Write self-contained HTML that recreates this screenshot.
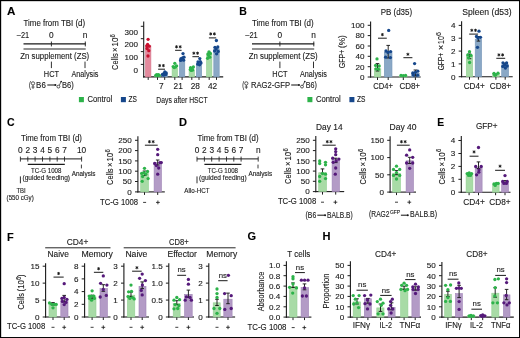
<!DOCTYPE html>
<html><head><meta charset="utf-8"><style>
html,body{margin:0;padding:0;background:#fff;}
svg{display:block;will-change:transform;}
text{font-family:"Liberation Sans", sans-serif;stroke:#1a1a1a;stroke-width:0.12px;}
</style></head><body>
<svg width="520" height="338" viewBox="0 0 520 338">
<rect width="520" height="338" fill="#fff"/>
<rect x="0.55" y="0.55" width="519.1" height="337.1" fill="none" stroke="#000" stroke-width="1.25"/>
<text x="7.00" y="15.20" font-size="10.6" text-anchor="start" font-weight="bold" textLength="8.40" lengthAdjust="spacingAndGlyphs" fill="#000">A</text>
<text x="23.50" y="25.60" font-size="8.3" text-anchor="start" textLength="61.60" lengthAdjust="spacingAndGlyphs" fill="#1a1a1a">Time from TBI (d)</text>
<text x="16.80" y="37.60" font-size="8.3" text-anchor="start" textLength="12.40" lengthAdjust="spacingAndGlyphs" fill="#1a1a1a">–21</text>
<text x="51.40" y="37.60" font-size="8.3" text-anchor="middle" fill="#1a1a1a">0</text>
<text x="85.10" y="37.60" font-size="8.3" text-anchor="middle" fill="#1a1a1a">n</text>
<line x1="23.50" y1="43.90" x2="85.70" y2="43.90" stroke="#1a1a1a" stroke-width="1.2"/>
<line x1="51.40" y1="41.50" x2="51.40" y2="46.40" stroke="#1a1a1a" stroke-width="0.9"/>
<line x1="85.30" y1="41.50" x2="85.30" y2="46.40" stroke="#1a1a1a" stroke-width="0.9"/>
<line x1="23.50" y1="49.00" x2="85.70" y2="49.00" stroke="#1a1a1a" stroke-width="0.95"/>
<text x="20.30" y="59.10" font-size="8.3" text-anchor="start" textLength="68.90" lengthAdjust="spacingAndGlyphs" fill="#1a1a1a">Zn supplement (ZS)</text>
<line x1="51.40" y1="61.60" x2="51.40" y2="68.10" stroke="#1a1a1a" stroke-width="0.9"/>
<line x1="85.00" y1="61.60" x2="85.00" y2="68.10" stroke="#1a1a1a" stroke-width="0.9"/>
<text x="43.80" y="77.20" font-size="8.3" text-anchor="start" textLength="15.20" lengthAdjust="spacingAndGlyphs" fill="#1a1a1a">HCT</text>
<text x="71.50" y="77.20" font-size="8.3" text-anchor="start" textLength="26.90" lengthAdjust="spacingAndGlyphs" fill="#1a1a1a">Analysis</text>
<rect x="78.90" y="97.00" width="5.00" height="5.20" fill="#2db34a"/>
<text x="87.50" y="102.40" font-size="8.3" text-anchor="start" textLength="24.70" lengthAdjust="spacingAndGlyphs" fill="#1a1a1a">Control</text>
<rect x="120.90" y="97.00" width="5.00" height="5.20" fill="#16478b"/>
<text x="128.60" y="102.40" font-size="8.3" text-anchor="start" textLength="8.40" lengthAdjust="spacingAndGlyphs" fill="#1a1a1a">ZS</text>
<text x="29.00" y="88.00" font-size="8.3" text-anchor="start" textLength="2.00" lengthAdjust="spacingAndGlyphs" fill="#1a1a1a">(</text>
<circle cx="33.00" cy="83.40" r="1.65" fill="none" stroke="#1a1a1a" stroke-width="0.72"/>
<line x1="33.00" y1="85.05" x2="33.00" y2="88.95" stroke="#1a1a1a" stroke-width="0.72"/>
<line x1="31.50" y1="87.05" x2="34.50" y2="87.05" stroke="#1a1a1a" stroke-width="0.72"/>
<text x="36.10" y="88.00" font-size="8.3" text-anchor="start" textLength="9.70" lengthAdjust="spacingAndGlyphs" fill="#1a1a1a">B6</text>
<line x1="47.30" y1="85.00" x2="55.40" y2="85.00" stroke="#1a1a1a" stroke-width="1.05"/>
<circle cx="55.40" cy="85.00" r="1.0" fill="#1a1a1a"/>
<circle cx="58.40" cy="86.60" r="1.45" fill="none" stroke="#1a1a1a" stroke-width="0.72"/>
<line x1="59.27" y1="85.44" x2="61.10" y2="81.60" stroke="#1a1a1a" stroke-width="0.72"/>
<circle cx="61.20" cy="81.50" r="0.85" fill="#1a1a1a"/>
<text x="62.00" y="88.00" font-size="8.3" text-anchor="start" textLength="11.80" lengthAdjust="spacingAndGlyphs" fill="#1a1a1a">B6)</text>
<text x="239.30" y="15.20" font-size="10.6" text-anchor="start" font-weight="bold" textLength="7.60" lengthAdjust="spacingAndGlyphs" fill="#000">B</text>
<text x="252.00" y="25.60" font-size="8.3" text-anchor="start" textLength="61.60" lengthAdjust="spacingAndGlyphs" fill="#1a1a1a">Time from TBI (d)</text>
<text x="245.30" y="37.60" font-size="8.3" text-anchor="start" textLength="12.40" lengthAdjust="spacingAndGlyphs" fill="#1a1a1a">–21</text>
<text x="279.90" y="37.60" font-size="8.3" text-anchor="middle" fill="#1a1a1a">0</text>
<text x="313.60" y="37.60" font-size="8.3" text-anchor="middle" fill="#1a1a1a">n</text>
<line x1="252.00" y1="43.90" x2="314.20" y2="43.90" stroke="#1a1a1a" stroke-width="1.2"/>
<line x1="279.90" y1="41.50" x2="279.90" y2="46.40" stroke="#1a1a1a" stroke-width="0.9"/>
<line x1="313.80" y1="41.50" x2="313.80" y2="46.40" stroke="#1a1a1a" stroke-width="0.9"/>
<line x1="252.00" y1="49.00" x2="314.20" y2="49.00" stroke="#1a1a1a" stroke-width="0.95"/>
<text x="248.80" y="59.10" font-size="8.3" text-anchor="start" textLength="68.90" lengthAdjust="spacingAndGlyphs" fill="#1a1a1a">Zn supplement (ZS)</text>
<line x1="279.90" y1="61.60" x2="279.90" y2="68.10" stroke="#1a1a1a" stroke-width="0.9"/>
<line x1="313.50" y1="61.60" x2="313.50" y2="68.10" stroke="#1a1a1a" stroke-width="0.9"/>
<text x="272.30" y="77.20" font-size="8.3" text-anchor="start" textLength="15.20" lengthAdjust="spacingAndGlyphs" fill="#1a1a1a">HCT</text>
<text x="300.00" y="77.20" font-size="8.3" text-anchor="start" textLength="26.90" lengthAdjust="spacingAndGlyphs" fill="#1a1a1a">Analysis</text>
<rect x="307.40" y="97.00" width="5.00" height="5.20" fill="#2db34a"/>
<text x="316.00" y="102.40" font-size="8.3" text-anchor="start" textLength="24.70" lengthAdjust="spacingAndGlyphs" fill="#1a1a1a">Control</text>
<rect x="349.40" y="97.00" width="5.00" height="5.20" fill="#16478b"/>
<text x="357.10" y="102.40" font-size="8.3" text-anchor="start" textLength="8.40" lengthAdjust="spacingAndGlyphs" fill="#1a1a1a">ZS</text>
<text x="242.30" y="88.00" font-size="8.3" text-anchor="start" textLength="2.00" lengthAdjust="spacingAndGlyphs" fill="#1a1a1a">(</text>
<circle cx="246.30" cy="83.40" r="1.65" fill="none" stroke="#1a1a1a" stroke-width="0.72"/>
<line x1="246.30" y1="85.05" x2="246.30" y2="88.95" stroke="#1a1a1a" stroke-width="0.72"/>
<line x1="244.80" y1="87.05" x2="247.80" y2="87.05" stroke="#1a1a1a" stroke-width="0.72"/>
<text x="251.00" y="88.00" font-size="8.3" text-anchor="start" textLength="39.00" lengthAdjust="spacingAndGlyphs" fill="#1a1a1a">RAG2-GFP</text>
<line x1="291.20" y1="85.00" x2="299.00" y2="85.00" stroke="#1a1a1a" stroke-width="1.05"/>
<circle cx="299.00" cy="85.00" r="1.0" fill="#1a1a1a"/>
<circle cx="302.00" cy="86.60" r="1.45" fill="none" stroke="#1a1a1a" stroke-width="0.72"/>
<line x1="302.87" y1="85.44" x2="304.70" y2="81.60" stroke="#1a1a1a" stroke-width="0.72"/>
<circle cx="304.80" cy="81.50" r="0.85" fill="#1a1a1a"/>
<text x="305.80" y="88.00" font-size="8.3" text-anchor="start" textLength="11.20" lengthAdjust="spacingAndGlyphs" fill="#1a1a1a">B6)</text>
<line x1="143.70" y1="21.50" x2="143.70" y2="77.45" stroke="#1a1a1a" stroke-width="1.1"/>
<line x1="143.15" y1="76.90" x2="223.20" y2="76.90" stroke="#1a1a1a" stroke-width="1.1"/>
<line x1="140.80" y1="26.30" x2="143.70" y2="26.30" stroke="#1a1a1a" stroke-width="0.9900000000000001"/>
<line x1="140.80" y1="38.70" x2="143.70" y2="38.70" stroke="#1a1a1a" stroke-width="0.9900000000000001"/>
<line x1="140.80" y1="51.60" x2="143.70" y2="51.60" stroke="#1a1a1a" stroke-width="0.9900000000000001"/>
<line x1="140.80" y1="64.40" x2="143.70" y2="64.40" stroke="#1a1a1a" stroke-width="0.9900000000000001"/>
<line x1="148.20" y1="76.90" x2="148.20" y2="79.90" stroke="#1a1a1a" stroke-width="0.9900000000000001"/>
<line x1="157.50" y1="76.90" x2="157.50" y2="79.90" stroke="#1a1a1a" stroke-width="0.9900000000000001"/>
<line x1="164.70" y1="76.90" x2="164.70" y2="79.90" stroke="#1a1a1a" stroke-width="0.9900000000000001"/>
<line x1="174.80" y1="76.90" x2="174.80" y2="79.90" stroke="#1a1a1a" stroke-width="0.9900000000000001"/>
<line x1="182.10" y1="76.90" x2="182.10" y2="79.90" stroke="#1a1a1a" stroke-width="0.9900000000000001"/>
<line x1="191.80" y1="76.90" x2="191.80" y2="79.90" stroke="#1a1a1a" stroke-width="0.9900000000000001"/>
<line x1="199.00" y1="76.90" x2="199.00" y2="79.90" stroke="#1a1a1a" stroke-width="0.9900000000000001"/>
<line x1="209.20" y1="76.90" x2="209.20" y2="79.90" stroke="#1a1a1a" stroke-width="0.9900000000000001"/>
<line x1="216.50" y1="76.90" x2="216.50" y2="79.90" stroke="#1a1a1a" stroke-width="0.9900000000000001"/>
<text x="137.90" y="34.73" font-size="8.1" text-anchor="end" fill="#1a1a1a">300</text>
<text x="137.90" y="47.44" font-size="8.1" text-anchor="end" fill="#1a1a1a">200</text>
<text x="137.90" y="60.04" font-size="8.1" text-anchor="end" fill="#1a1a1a">100</text>
<text x="137.90" y="73.03" font-size="8.1" text-anchor="end" fill="#1a1a1a">0</text>
<rect x="145.50" y="45.80" width="5.40" height="31.10" fill="#e38a9d" stroke="#d8768c" stroke-width="0.6"/>
<rect x="154.80" y="75.10" width="5.40" height="1.80" fill="#a8dba6" stroke="#93d093" stroke-width="0.6"/>
<rect x="162.00" y="73.10" width="5.40" height="3.80" fill="#8aa8c6" stroke="#7696b8" stroke-width="0.6"/>
<rect x="172.10" y="67.90" width="5.40" height="9.00" fill="#a8dba6" stroke="#93d093" stroke-width="0.6"/>
<rect x="179.40" y="59.30" width="5.40" height="17.60" fill="#8aa8c6" stroke="#7696b8" stroke-width="0.6"/>
<rect x="189.10" y="69.90" width="5.40" height="7.00" fill="#a8dba6" stroke="#93d093" stroke-width="0.6"/>
<rect x="196.30" y="63.50" width="5.40" height="13.40" fill="#8aa8c6" stroke="#7696b8" stroke-width="0.6"/>
<rect x="206.50" y="54.30" width="5.40" height="22.60" fill="#a8dba6" stroke="#93d093" stroke-width="0.6"/>
<rect x="213.80" y="48.80" width="5.40" height="28.10" fill="#8aa8c6" stroke="#7696b8" stroke-width="0.6"/>
<circle cx="148.10" cy="39.30" r="1.65" fill="#c8102e"/>
<circle cx="147.60" cy="44.50" r="1.65" fill="#c8102e"/>
<circle cx="149.20" cy="46.20" r="1.65" fill="#c8102e"/>
<circle cx="147.00" cy="48.50" r="1.65" fill="#c8102e"/>
<circle cx="148.80" cy="50.70" r="1.65" fill="#c8102e"/>
<circle cx="148.00" cy="56.00" r="1.65" fill="#c8102e"/>
<circle cx="146.80" cy="45.80" r="1.65" fill="#c8102e"/>
<circle cx="155.80" cy="75.30" r="1.65" fill="#2db34a"/>
<circle cx="157.50" cy="75.60" r="1.65" fill="#2db34a"/>
<circle cx="159.20" cy="75.30" r="1.65" fill="#2db34a"/>
<circle cx="156.70" cy="74.60" r="1.65" fill="#2db34a"/>
<circle cx="158.40" cy="74.60" r="1.65" fill="#2db34a"/>
<circle cx="162.50" cy="74.40" r="1.65" fill="#16478b"/>
<circle cx="164.20" cy="73.30" r="1.65" fill="#16478b"/>
<circle cx="166.20" cy="72.90" r="1.65" fill="#16478b"/>
<circle cx="163.50" cy="75.20" r="1.65" fill="#16478b"/>
<circle cx="165.70" cy="74.60" r="1.65" fill="#16478b"/>
<circle cx="164.80" cy="71.90" r="1.65" fill="#16478b"/>
<circle cx="174.80" cy="63.30" r="1.65" fill="#2db34a"/>
<circle cx="173.20" cy="66.60" r="1.65" fill="#2db34a"/>
<circle cx="175.50" cy="66.90" r="1.65" fill="#2db34a"/>
<circle cx="176.60" cy="65.90" r="1.65" fill="#2db34a"/>
<circle cx="174.20" cy="67.60" r="1.65" fill="#2db34a"/>
<circle cx="183.00" cy="53.60" r="1.65" fill="#16478b"/>
<circle cx="181.00" cy="58.60" r="1.65" fill="#16478b"/>
<circle cx="182.60" cy="58.00" r="1.65" fill="#16478b"/>
<circle cx="184.00" cy="57.20" r="1.65" fill="#16478b"/>
<circle cx="180.60" cy="60.40" r="1.65" fill="#16478b"/>
<circle cx="183.60" cy="60.20" r="1.65" fill="#16478b"/>
<circle cx="190.60" cy="67.60" r="1.65" fill="#2db34a"/>
<circle cx="192.00" cy="68.60" r="1.65" fill="#2db34a"/>
<circle cx="193.40" cy="67.00" r="1.65" fill="#2db34a"/>
<circle cx="191.20" cy="70.40" r="1.65" fill="#2db34a"/>
<circle cx="192.70" cy="70.10" r="1.65" fill="#2db34a"/>
<circle cx="190.30" cy="69.40" r="1.65" fill="#2db34a"/>
<circle cx="199.80" cy="58.60" r="1.65" fill="#16478b"/>
<circle cx="198.00" cy="61.90" r="1.65" fill="#16478b"/>
<circle cx="200.30" cy="61.60" r="1.65" fill="#16478b"/>
<circle cx="197.80" cy="64.20" r="1.65" fill="#16478b"/>
<circle cx="199.60" cy="64.80" r="1.65" fill="#16478b"/>
<circle cx="201.00" cy="63.00" r="1.65" fill="#16478b"/>
<circle cx="209.00" cy="51.80" r="1.65" fill="#2db34a"/>
<circle cx="208.00" cy="53.80" r="1.65" fill="#2db34a"/>
<circle cx="210.40" cy="53.40" r="1.65" fill="#2db34a"/>
<circle cx="208.60" cy="55.60" r="1.65" fill="#2db34a"/>
<circle cx="209.80" cy="57.20" r="1.65" fill="#2db34a"/>
<circle cx="207.60" cy="58.30" r="1.65" fill="#2db34a"/>
<circle cx="216.40" cy="40.50" r="1.65" fill="#16478b"/>
<circle cx="215.00" cy="47.30" r="1.65" fill="#16478b"/>
<circle cx="217.80" cy="47.00" r="1.65" fill="#16478b"/>
<circle cx="216.20" cy="49.00" r="1.65" fill="#16478b"/>
<circle cx="214.60" cy="51.00" r="1.65" fill="#16478b"/>
<circle cx="218.20" cy="51.40" r="1.65" fill="#16478b"/>
<circle cx="216.60" cy="53.80" r="1.65" fill="#16478b"/>
<line x1="158.10" y1="69.20" x2="165.00" y2="69.20" stroke="#1a1a1a" stroke-width="1.0"/>
<path d="M159.70,64.45L159.70,66.75M158.70,65.02L160.70,66.17M158.70,66.17L160.70,65.02" stroke="#1a1a1a" stroke-width="0.95" stroke-linecap="round"/>
<path d="M163.40,64.45L163.40,66.75M162.40,65.02L164.40,66.17M162.40,66.17L164.40,65.02" stroke="#1a1a1a" stroke-width="0.95" stroke-linecap="round"/>
<line x1="175.10" y1="50.30" x2="181.60" y2="50.30" stroke="#1a1a1a" stroke-width="1.0"/>
<path d="M176.50,45.65L176.50,47.95M175.50,46.22L177.50,47.38M175.50,47.38L177.50,46.22" stroke="#1a1a1a" stroke-width="0.95" stroke-linecap="round"/>
<path d="M180.20,45.65L180.20,47.95M179.20,46.22L181.20,47.38M179.20,47.38L181.20,46.22" stroke="#1a1a1a" stroke-width="0.95" stroke-linecap="round"/>
<line x1="192.40" y1="56.70" x2="199.00" y2="56.70" stroke="#1a1a1a" stroke-width="1.0"/>
<path d="M193.85,52.05L193.85,54.35M192.85,52.62L194.85,53.78M192.85,53.78L194.85,52.62" stroke="#1a1a1a" stroke-width="0.95" stroke-linecap="round"/>
<path d="M197.55,52.05L197.55,54.35M196.55,52.62L198.55,53.78M196.55,53.78L198.55,52.62" stroke="#1a1a1a" stroke-width="0.95" stroke-linecap="round"/>
<line x1="208.90" y1="37.90" x2="216.20" y2="37.90" stroke="#1a1a1a" stroke-width="1.0"/>
<path d="M210.70,32.75L210.70,35.05M209.70,33.32L211.70,34.48M209.70,34.48L211.70,33.32" stroke="#1a1a1a" stroke-width="0.95" stroke-linecap="round"/>
<path d="M214.40,32.75L214.40,35.05M213.40,33.32L215.40,34.48M213.40,34.48L215.40,33.32" stroke="#1a1a1a" stroke-width="0.95" stroke-linecap="round"/>
<text x="161.20" y="89.40" font-size="8.3" text-anchor="middle" fill="#1a1a1a">7</text>
<text x="178.20" y="89.40" font-size="8.3" text-anchor="middle" fill="#1a1a1a">21</text>
<text x="195.30" y="89.40" font-size="8.3" text-anchor="middle" fill="#1a1a1a">28</text>
<text x="212.50" y="89.40" font-size="8.3" text-anchor="middle" fill="#1a1a1a">42</text>
<text x="156.30" y="103.00" font-size="9.6" text-anchor="start" textLength="51.40" lengthAdjust="spacingAndGlyphs" fill="#1a1a1a">Days after HSCT</text>
<g transform="translate(118.10,69.90) rotate(-90)">
<text x="0.00" y="0.00" font-size="9.8" textLength="16.60" lengthAdjust="spacingAndGlyphs" fill="#1a1a1a">Cells</text>
<text x="17.90" y="0.00" font-size="9.8" textLength="4.60" lengthAdjust="spacingAndGlyphs" fill="#1a1a1a">×</text>
<text x="23.40" y="0.00" font-size="9.8" textLength="8.80" lengthAdjust="spacingAndGlyphs" fill="#1a1a1a">10</text>
<text x="32.40" y="-3.40" font-size="7.2" textLength="3.30" lengthAdjust="spacingAndGlyphs" fill="#1a1a1a">6</text>
</g>
<text x="380.65" y="14.60" font-size="8.3" text-anchor="start" textLength="31.50" lengthAdjust="spacingAndGlyphs" fill="#1a1a1a">PB (d35)</text>
<line x1="370.60" y1="21.50" x2="370.60" y2="77.55" stroke="#1a1a1a" stroke-width="1.1"/>
<line x1="370.05" y1="77.00" x2="420.70" y2="77.00" stroke="#1a1a1a" stroke-width="1.1"/>
<line x1="367.70" y1="25.30" x2="370.60" y2="25.30" stroke="#1a1a1a" stroke-width="0.9900000000000001"/>
<text x="364.45" y="28.14" font-size="8.1" text-anchor="end" fill="#1a1a1a">100</text>
<line x1="367.70" y1="35.60" x2="370.60" y2="35.60" stroke="#1a1a1a" stroke-width="0.9900000000000001"/>
<text x="364.45" y="38.44" font-size="8.1" text-anchor="end" fill="#1a1a1a">80</text>
<line x1="367.70" y1="46.00" x2="370.60" y2="46.00" stroke="#1a1a1a" stroke-width="0.9900000000000001"/>
<text x="364.45" y="48.84" font-size="8.1" text-anchor="end" fill="#1a1a1a">60</text>
<line x1="367.70" y1="56.30" x2="370.60" y2="56.30" stroke="#1a1a1a" stroke-width="0.9900000000000001"/>
<text x="364.45" y="59.13" font-size="8.1" text-anchor="end" fill="#1a1a1a">40</text>
<line x1="367.70" y1="66.70" x2="370.60" y2="66.70" stroke="#1a1a1a" stroke-width="0.9900000000000001"/>
<text x="364.45" y="69.53" font-size="8.1" text-anchor="end" fill="#1a1a1a">20</text>
<line x1="367.70" y1="77.00" x2="370.60" y2="77.00" stroke="#1a1a1a" stroke-width="0.9900000000000001"/>
<text x="364.45" y="79.83" font-size="8.1" text-anchor="end" fill="#1a1a1a">0</text>
<line x1="377.50" y1="77.00" x2="377.50" y2="80.00" stroke="#1a1a1a" stroke-width="0.9900000000000001"/>
<line x1="388.20" y1="77.00" x2="388.20" y2="80.00" stroke="#1a1a1a" stroke-width="0.9900000000000001"/>
<line x1="403.30" y1="77.00" x2="403.30" y2="80.00" stroke="#1a1a1a" stroke-width="0.9900000000000001"/>
<line x1="415.40" y1="77.00" x2="415.40" y2="80.00" stroke="#1a1a1a" stroke-width="0.9900000000000001"/>
<rect x="374.30" y="68.70" width="6.50" height="8.30" fill="#a8dba6" stroke="#93d093" stroke-width="0.6"/>
<rect x="384.30" y="52.10" width="7.70" height="24.90" fill="#8aa8c6" stroke="#7696b8" stroke-width="0.6"/>
<rect x="399.70" y="75.90" width="7.20" height="1.10" fill="#a8dba6" stroke="#93d093" stroke-width="0.6"/>
<rect x="411.50" y="73.40" width="7.70" height="3.60" fill="#8aa8c6" stroke="#7696b8" stroke-width="0.6"/>
<line x1="377.50" y1="63.60" x2="377.50" y2="71.00" stroke="#1a1a1a" stroke-width="0.95"/>
<line x1="375.70" y1="63.60" x2="379.30" y2="63.60" stroke="#1a1a1a" stroke-width="0.95"/>
<line x1="375.70" y1="71.00" x2="379.30" y2="71.00" stroke="#1a1a1a" stroke-width="0.95"/>
<line x1="388.20" y1="45.40" x2="388.20" y2="58.00" stroke="#1a1a1a" stroke-width="0.95"/>
<line x1="386.40" y1="45.40" x2="390.00" y2="45.40" stroke="#1a1a1a" stroke-width="0.95"/>
<line x1="386.40" y1="58.00" x2="390.00" y2="58.00" stroke="#1a1a1a" stroke-width="0.95"/>
<line x1="415.40" y1="70.00" x2="415.40" y2="76.00" stroke="#1a1a1a" stroke-width="0.95"/>
<line x1="413.60" y1="70.00" x2="417.20" y2="70.00" stroke="#1a1a1a" stroke-width="0.95"/>
<line x1="413.60" y1="76.00" x2="417.20" y2="76.00" stroke="#1a1a1a" stroke-width="0.95"/>
<circle cx="377.00" cy="58.90" r="1.65" fill="#2db34a"/>
<circle cx="375.60" cy="65.50" r="1.65" fill="#2db34a"/>
<circle cx="379.20" cy="66.00" r="1.65" fill="#2db34a"/>
<circle cx="376.00" cy="68.80" r="1.65" fill="#2db34a"/>
<circle cx="378.40" cy="69.20" r="1.65" fill="#2db34a"/>
<circle cx="388.70" cy="30.40" r="1.65" fill="#16478b"/>
<circle cx="386.00" cy="51.00" r="1.65" fill="#16478b"/>
<circle cx="388.00" cy="52.40" r="1.65" fill="#16478b"/>
<circle cx="390.60" cy="51.60" r="1.65" fill="#16478b"/>
<circle cx="385.60" cy="57.20" r="1.65" fill="#16478b"/>
<circle cx="390.40" cy="57.60" r="1.65" fill="#16478b"/>
<circle cx="401.00" cy="75.40" r="1.65" fill="#2db34a"/>
<circle cx="403.30" cy="75.60" r="1.65" fill="#2db34a"/>
<circle cx="405.60" cy="75.40" r="1.65" fill="#2db34a"/>
<circle cx="414.60" cy="63.60" r="1.65" fill="#16478b"/>
<circle cx="412.80" cy="73.00" r="1.65" fill="#16478b"/>
<circle cx="415.40" cy="72.30" r="1.65" fill="#16478b"/>
<circle cx="417.80" cy="71.20" r="1.65" fill="#16478b"/>
<circle cx="413.40" cy="75.00" r="1.65" fill="#16478b"/>
<circle cx="417.60" cy="75.20" r="1.65" fill="#16478b"/>
<line x1="378.00" y1="38.20" x2="386.80" y2="38.20" stroke="#1a1a1a" stroke-width="1.0"/>
<path d="M382.40,33.45L382.40,35.75M381.40,34.02L383.40,35.18M381.40,35.18L383.40,34.02" stroke="#1a1a1a" stroke-width="0.95" stroke-linecap="round"/>
<line x1="403.40" y1="57.70" x2="412.40" y2="57.70" stroke="#1a1a1a" stroke-width="1.0"/>
<path d="M407.90,53.15L407.90,55.45M406.90,53.72L408.90,54.88M406.90,54.88L408.90,53.72" stroke="#1a1a1a" stroke-width="0.95" stroke-linecap="round"/>
<text x="373.35" y="88.50" font-size="8.3" text-anchor="start" textLength="19.70" lengthAdjust="spacingAndGlyphs" fill="#1a1a1a">CD4+</text>
<text x="399.40" y="88.50" font-size="8.3" text-anchor="start" textLength="20.60" lengthAdjust="spacingAndGlyphs" fill="#1a1a1a">CD8+</text>
<g transform="translate(344.90,68.20) rotate(-90)">
<text x="0.00" y="0.00" font-size="9.8" textLength="18.60" lengthAdjust="spacingAndGlyphs" fill="#1a1a1a">GFP+</text>
<text x="20.20" y="0.00" font-size="9.2" textLength="12.80" lengthAdjust="spacingAndGlyphs" fill="#1a1a1a">(%)</text>
</g>
<text x="462.35" y="14.60" font-size="8.3" text-anchor="start" textLength="49.30" lengthAdjust="spacingAndGlyphs" fill="#1a1a1a">Spleen (d53)</text>
<line x1="461.60" y1="21.30" x2="461.60" y2="77.25" stroke="#1a1a1a" stroke-width="1.1"/>
<line x1="461.05" y1="76.70" x2="512.70" y2="76.70" stroke="#1a1a1a" stroke-width="1.1"/>
<line x1="458.70" y1="25.40" x2="461.60" y2="25.40" stroke="#1a1a1a" stroke-width="0.9900000000000001"/>
<text x="455.45" y="28.23" font-size="8.1" text-anchor="end" fill="#1a1a1a">4</text>
<line x1="458.70" y1="38.20" x2="461.60" y2="38.20" stroke="#1a1a1a" stroke-width="0.9900000000000001"/>
<text x="455.45" y="41.04" font-size="8.1" text-anchor="end" fill="#1a1a1a">3</text>
<line x1="458.70" y1="51.10" x2="461.60" y2="51.10" stroke="#1a1a1a" stroke-width="0.9900000000000001"/>
<text x="455.45" y="53.94" font-size="8.1" text-anchor="end" fill="#1a1a1a">2</text>
<line x1="458.70" y1="63.90" x2="461.60" y2="63.90" stroke="#1a1a1a" stroke-width="0.9900000000000001"/>
<text x="455.45" y="66.73" font-size="8.1" text-anchor="end" fill="#1a1a1a">1</text>
<line x1="458.70" y1="76.70" x2="461.60" y2="76.70" stroke="#1a1a1a" stroke-width="0.9900000000000001"/>
<text x="455.45" y="79.53" font-size="8.1" text-anchor="end" fill="#1a1a1a">0</text>
<line x1="469.50" y1="76.70" x2="469.50" y2="79.70" stroke="#1a1a1a" stroke-width="0.9900000000000001"/>
<line x1="478.40" y1="76.70" x2="478.40" y2="79.70" stroke="#1a1a1a" stroke-width="0.9900000000000001"/>
<line x1="495.90" y1="76.70" x2="495.90" y2="79.70" stroke="#1a1a1a" stroke-width="0.9900000000000001"/>
<line x1="505.20" y1="76.70" x2="505.20" y2="79.70" stroke="#1a1a1a" stroke-width="0.9900000000000001"/>
<rect x="466.30" y="55.80" width="6.40" height="20.90" fill="#a8dba6" stroke="#93d093" stroke-width="0.6"/>
<rect x="475.20" y="39.10" width="6.40" height="37.60" fill="#8aa8c6" stroke="#7696b8" stroke-width="0.6"/>
<rect x="492.60" y="73.30" width="6.60" height="3.40" fill="#a8dba6" stroke="#93d093" stroke-width="0.6"/>
<rect x="501.70" y="64.70" width="6.90" height="12.00" fill="#8aa8c6" stroke="#7696b8" stroke-width="0.6"/>
<line x1="469.50" y1="54.00" x2="469.50" y2="58.70" stroke="#1a1a1a" stroke-width="0.95"/>
<line x1="467.70" y1="54.00" x2="471.30" y2="54.00" stroke="#1a1a1a" stroke-width="0.95"/>
<line x1="467.70" y1="58.70" x2="471.30" y2="58.70" stroke="#1a1a1a" stroke-width="0.95"/>
<line x1="478.40" y1="36.50" x2="478.40" y2="41.10" stroke="#1a1a1a" stroke-width="0.95"/>
<line x1="476.60" y1="36.50" x2="480.20" y2="36.50" stroke="#1a1a1a" stroke-width="0.95"/>
<line x1="476.60" y1="41.10" x2="480.20" y2="41.10" stroke="#1a1a1a" stroke-width="0.95"/>
<line x1="505.20" y1="63.20" x2="505.20" y2="65.60" stroke="#1a1a1a" stroke-width="0.95"/>
<line x1="503.40" y1="63.20" x2="507.00" y2="63.20" stroke="#1a1a1a" stroke-width="0.95"/>
<line x1="503.40" y1="65.60" x2="507.00" y2="65.60" stroke="#1a1a1a" stroke-width="0.95"/>
<circle cx="469.50" cy="51.70" r="1.65" fill="#2db34a"/>
<circle cx="467.80" cy="54.90" r="1.65" fill="#2db34a"/>
<circle cx="471.00" cy="55.40" r="1.65" fill="#2db34a"/>
<circle cx="468.60" cy="57.80" r="1.65" fill="#2db34a"/>
<circle cx="469.60" cy="62.50" r="1.65" fill="#2db34a"/>
<circle cx="479.00" cy="31.20" r="1.65" fill="#16478b"/>
<circle cx="476.50" cy="36.50" r="1.65" fill="#16478b"/>
<circle cx="480.50" cy="37.30" r="1.65" fill="#16478b"/>
<circle cx="478.00" cy="38.00" r="1.65" fill="#16478b"/>
<circle cx="477.50" cy="47.30" r="1.65" fill="#16478b"/>
<circle cx="494.00" cy="73.50" r="1.65" fill="#2db34a"/>
<circle cx="496.00" cy="74.60" r="1.65" fill="#2db34a"/>
<circle cx="498.00" cy="73.20" r="1.65" fill="#2db34a"/>
<circle cx="495.00" cy="75.30" r="1.65" fill="#2db34a"/>
<circle cx="503.00" cy="62.80" r="1.65" fill="#16478b"/>
<circle cx="506.60" cy="63.00" r="1.65" fill="#16478b"/>
<circle cx="504.60" cy="65.00" r="1.65" fill="#16478b"/>
<circle cx="502.80" cy="66.40" r="1.65" fill="#16478b"/>
<circle cx="507.20" cy="66.00" r="1.65" fill="#16478b"/>
<circle cx="505.40" cy="68.00" r="1.65" fill="#16478b"/>
<line x1="469.20" y1="34.10" x2="478.10" y2="34.10" stroke="#1a1a1a" stroke-width="1.0"/>
<path d="M471.80,29.15L471.80,31.45M470.80,29.73L472.80,30.88M470.80,30.88L472.80,29.73" stroke="#1a1a1a" stroke-width="0.95" stroke-linecap="round"/>
<path d="M475.50,29.15L475.50,31.45M474.50,29.73L476.50,30.88M474.50,30.88L476.50,29.73" stroke="#1a1a1a" stroke-width="0.95" stroke-linecap="round"/>
<line x1="496.30" y1="58.30" x2="505.20" y2="58.30" stroke="#1a1a1a" stroke-width="1.0"/>
<path d="M498.90,53.75L498.90,56.05M497.90,54.32L499.90,55.48M497.90,55.48L499.90,54.32" stroke="#1a1a1a" stroke-width="0.95" stroke-linecap="round"/>
<path d="M502.60,53.75L502.60,56.05M501.60,54.32L503.60,55.48M501.60,55.48L503.60,54.32" stroke="#1a1a1a" stroke-width="0.95" stroke-linecap="round"/>
<text x="463.65" y="89.40" font-size="8.3" text-anchor="start" textLength="21.10" lengthAdjust="spacingAndGlyphs" fill="#1a1a1a">CD4+</text>
<text x="489.85" y="89.40" font-size="8.3" text-anchor="start" textLength="21.10" lengthAdjust="spacingAndGlyphs" fill="#1a1a1a">CD8+</text>
<g transform="translate(444.40,70.30) rotate(-90)">
<text x="0.00" y="0.00" font-size="9.8" textLength="17.40" lengthAdjust="spacingAndGlyphs" fill="#1a1a1a">GFP+</text>
<text x="20.20" y="0.00" font-size="9.8" textLength="5.00" lengthAdjust="spacingAndGlyphs" fill="#1a1a1a">×</text>
<text x="26.40" y="0.00" font-size="9.8" textLength="7.60" lengthAdjust="spacingAndGlyphs" fill="#1a1a1a">10</text>
<text x="34.40" y="-3.40" font-size="7.2" textLength="4.00" lengthAdjust="spacingAndGlyphs" fill="#1a1a1a">6</text>
</g>
<text x="7.00" y="126.40" font-size="10.6" text-anchor="start" font-weight="bold" textLength="7.60" lengthAdjust="spacingAndGlyphs" fill="#000">C</text>
<text x="20.90" y="140.90" font-size="8.3" text-anchor="start" textLength="61.10" lengthAdjust="spacingAndGlyphs" fill="#1a1a1a">Time from TBI (d)</text>
<text x="20.40" y="153.10" font-size="8.3" text-anchor="middle" fill="#1a1a1a">0</text>
<text x="27.80" y="153.10" font-size="8.3" text-anchor="middle" fill="#1a1a1a">2</text>
<text x="35.10" y="153.10" font-size="8.3" text-anchor="middle" fill="#1a1a1a">3</text>
<text x="42.50" y="153.10" font-size="8.3" text-anchor="middle" fill="#1a1a1a">4</text>
<text x="49.90" y="153.10" font-size="8.3" text-anchor="middle" fill="#1a1a1a">5</text>
<text x="57.20" y="153.10" font-size="8.3" text-anchor="middle" fill="#1a1a1a">6</text>
<text x="64.50" y="153.10" font-size="8.3" text-anchor="middle" fill="#1a1a1a">7</text>
<text x="81.60" y="153.10" font-size="8.3" text-anchor="middle" fill="#1a1a1a">10</text>
<line x1="20.40" y1="158.90" x2="81.60" y2="158.90" stroke="#1a1a1a" stroke-width="1.0"/>
<line x1="20.40" y1="156.60" x2="20.40" y2="161.60" stroke="#1a1a1a" stroke-width="0.85"/>
<line x1="27.80" y1="156.60" x2="27.80" y2="161.60" stroke="#1a1a1a" stroke-width="0.85"/>
<line x1="35.10" y1="156.60" x2="35.10" y2="161.60" stroke="#1a1a1a" stroke-width="0.85"/>
<line x1="42.50" y1="156.60" x2="42.50" y2="161.60" stroke="#1a1a1a" stroke-width="0.85"/>
<line x1="49.90" y1="156.60" x2="49.90" y2="161.60" stroke="#1a1a1a" stroke-width="0.85"/>
<line x1="57.20" y1="156.60" x2="57.20" y2="161.60" stroke="#1a1a1a" stroke-width="0.85"/>
<line x1="64.50" y1="156.60" x2="64.50" y2="161.60" stroke="#1a1a1a" stroke-width="0.85"/>
<line x1="81.60" y1="156.60" x2="81.60" y2="161.60" stroke="#1a1a1a" stroke-width="0.85"/>
<line x1="27.80" y1="164.30" x2="64.80" y2="164.30" stroke="#1a1a1a" stroke-width="1.15"/>
<line x1="81.40" y1="164.60" x2="81.40" y2="168.40" stroke="#1a1a1a" stroke-width="0.85"/>
<text x="31.10" y="172.50" font-size="6.8" text-anchor="start" textLength="30.30" lengthAdjust="spacingAndGlyphs" fill="#1a1a1a">TC-G 1008</text>
<text x="22.50" y="179.90" font-size="6.8" text-anchor="start" textLength="47.50" lengthAdjust="spacingAndGlyphs" fill="#1a1a1a">(guided feeding)</text>
<text x="71.80" y="175.50" font-size="6.8" text-anchor="start" textLength="23.70" lengthAdjust="spacingAndGlyphs" fill="#1a1a1a">Analysis</text>
<line x1="20.40" y1="176.40" x2="20.40" y2="183.30" stroke="#1a1a1a" stroke-width="0.9"/>
<text x="16.40" y="193.00" font-size="6.8" text-anchor="start" textLength="9.20" lengthAdjust="spacingAndGlyphs" fill="#1a1a1a">TBI</text>
<text x="6.60" y="199.80" font-size="6.8" text-anchor="start" textLength="27.10" lengthAdjust="spacingAndGlyphs" fill="#1a1a1a">(550 cGy)</text>
<text x="179.00" y="126.40" font-size="10.6" text-anchor="start" font-weight="bold" textLength="8.00" lengthAdjust="spacingAndGlyphs" fill="#000">D</text>
<text x="197.50" y="140.90" font-size="8.3" text-anchor="start" textLength="61.10" lengthAdjust="spacingAndGlyphs" fill="#1a1a1a">Time from TBI (d)</text>
<text x="197.00" y="153.10" font-size="8.3" text-anchor="middle" fill="#1a1a1a">0</text>
<text x="204.40" y="153.10" font-size="8.3" text-anchor="middle" fill="#1a1a1a">2</text>
<text x="211.70" y="153.10" font-size="8.3" text-anchor="middle" fill="#1a1a1a">3</text>
<text x="219.10" y="153.10" font-size="8.3" text-anchor="middle" fill="#1a1a1a">4</text>
<text x="226.50" y="153.10" font-size="8.3" text-anchor="middle" fill="#1a1a1a">5</text>
<text x="233.80" y="153.10" font-size="8.3" text-anchor="middle" fill="#1a1a1a">6</text>
<text x="241.10" y="153.10" font-size="8.3" text-anchor="middle" fill="#1a1a1a">7</text>
<text x="258.20" y="153.10" font-size="8.3" text-anchor="middle" fill="#1a1a1a">n</text>
<line x1="197.00" y1="158.90" x2="258.20" y2="158.90" stroke="#1a1a1a" stroke-width="1.0"/>
<line x1="197.00" y1="156.60" x2="197.00" y2="161.60" stroke="#1a1a1a" stroke-width="0.85"/>
<line x1="204.40" y1="156.60" x2="204.40" y2="161.60" stroke="#1a1a1a" stroke-width="0.85"/>
<line x1="211.70" y1="156.60" x2="211.70" y2="161.60" stroke="#1a1a1a" stroke-width="0.85"/>
<line x1="219.10" y1="156.60" x2="219.10" y2="161.60" stroke="#1a1a1a" stroke-width="0.85"/>
<line x1="226.50" y1="156.60" x2="226.50" y2="161.60" stroke="#1a1a1a" stroke-width="0.85"/>
<line x1="233.80" y1="156.60" x2="233.80" y2="161.60" stroke="#1a1a1a" stroke-width="0.85"/>
<line x1="241.10" y1="156.60" x2="241.10" y2="161.60" stroke="#1a1a1a" stroke-width="0.85"/>
<line x1="258.20" y1="156.60" x2="258.20" y2="161.60" stroke="#1a1a1a" stroke-width="0.85"/>
<line x1="204.40" y1="164.30" x2="241.40" y2="164.30" stroke="#1a1a1a" stroke-width="1.15"/>
<line x1="258.00" y1="164.60" x2="258.00" y2="168.40" stroke="#1a1a1a" stroke-width="0.85"/>
<text x="207.70" y="172.50" font-size="6.8" text-anchor="start" textLength="30.30" lengthAdjust="spacingAndGlyphs" fill="#1a1a1a">TC-G 1008</text>
<text x="199.10" y="179.90" font-size="6.8" text-anchor="start" textLength="47.50" lengthAdjust="spacingAndGlyphs" fill="#1a1a1a">(guided feeding)</text>
<text x="248.40" y="175.50" font-size="6.8" text-anchor="start" textLength="23.70" lengthAdjust="spacingAndGlyphs" fill="#1a1a1a">Analysis</text>
<line x1="197.00" y1="176.40" x2="197.00" y2="183.30" stroke="#1a1a1a" stroke-width="0.9"/>
<text x="184.30" y="192.90" font-size="6.8" text-anchor="start" textLength="25.30" lengthAdjust="spacingAndGlyphs" fill="#1a1a1a">Allo-HCT</text>
<line x1="137.90" y1="136.30" x2="137.90" y2="192.45" stroke="#1a1a1a" stroke-width="1.1"/>
<line x1="137.35" y1="191.90" x2="164.80" y2="191.90" stroke="#1a1a1a" stroke-width="1.1"/>
<line x1="135.00" y1="140.30" x2="137.90" y2="140.30" stroke="#1a1a1a" stroke-width="0.9900000000000001"/>
<text x="131.75" y="143.14" font-size="8.1" text-anchor="end" fill="#1a1a1a">250</text>
<line x1="135.00" y1="150.60" x2="137.90" y2="150.60" stroke="#1a1a1a" stroke-width="0.9900000000000001"/>
<text x="131.75" y="153.44" font-size="8.1" text-anchor="end" fill="#1a1a1a">200</text>
<line x1="135.00" y1="160.90" x2="137.90" y2="160.90" stroke="#1a1a1a" stroke-width="0.9900000000000001"/>
<text x="131.75" y="163.74" font-size="8.1" text-anchor="end" fill="#1a1a1a">150</text>
<line x1="135.00" y1="171.20" x2="137.90" y2="171.20" stroke="#1a1a1a" stroke-width="0.9900000000000001"/>
<text x="131.75" y="174.03" font-size="8.1" text-anchor="end" fill="#1a1a1a">100</text>
<line x1="135.00" y1="181.50" x2="137.90" y2="181.50" stroke="#1a1a1a" stroke-width="0.9900000000000001"/>
<text x="131.75" y="184.34" font-size="8.1" text-anchor="end" fill="#1a1a1a">50</text>
<line x1="135.00" y1="191.90" x2="137.90" y2="191.90" stroke="#1a1a1a" stroke-width="0.9900000000000001"/>
<text x="131.75" y="194.74" font-size="8.1" text-anchor="end" fill="#1a1a1a">0</text>
<line x1="144.50" y1="191.90" x2="144.50" y2="194.90" stroke="#1a1a1a" stroke-width="0.9900000000000001"/>
<line x1="157.70" y1="191.90" x2="157.70" y2="194.90" stroke="#1a1a1a" stroke-width="0.9900000000000001"/>
<rect x="140.70" y="173.60" width="7.80" height="18.30" fill="#a8dba6" stroke="#93d093" stroke-width="0.6"/>
<rect x="154.10" y="162.60" width="7.40" height="29.30" fill="#b39bc6" stroke="#9f84b6" stroke-width="0.6"/>
<line x1="157.70" y1="160.00" x2="157.70" y2="165.00" stroke="#1a1a1a" stroke-width="0.95"/>
<line x1="155.90" y1="160.00" x2="159.50" y2="160.00" stroke="#1a1a1a" stroke-width="0.95"/>
<line x1="155.90" y1="165.00" x2="159.50" y2="165.00" stroke="#1a1a1a" stroke-width="0.95"/>
<line x1="144.50" y1="171.00" x2="144.50" y2="175.40" stroke="#1a1a1a" stroke-width="0.95"/>
<line x1="142.70" y1="171.00" x2="146.30" y2="171.00" stroke="#1a1a1a" stroke-width="0.95"/>
<line x1="142.70" y1="175.40" x2="146.30" y2="175.40" stroke="#1a1a1a" stroke-width="0.95"/>
<circle cx="144.50" cy="168.30" r="1.65" fill="#2db34a"/>
<circle cx="141.70" cy="173.30" r="1.65" fill="#2db34a"/>
<circle cx="144.00" cy="172.60" r="1.65" fill="#2db34a"/>
<circle cx="147.50" cy="171.50" r="1.65" fill="#2db34a"/>
<circle cx="145.80" cy="174.20" r="1.65" fill="#2db34a"/>
<circle cx="142.60" cy="176.50" r="1.65" fill="#2db34a"/>
<circle cx="148.10" cy="178.60" r="1.65" fill="#2db34a"/>
<circle cx="142.20" cy="181.30" r="1.65" fill="#2db34a"/>
<circle cx="157.70" cy="149.30" r="1.65" fill="#55197a"/>
<circle cx="157.70" cy="154.70" r="1.65" fill="#55197a"/>
<circle cx="154.70" cy="163.50" r="1.65" fill="#55197a"/>
<circle cx="160.00" cy="162.60" r="1.65" fill="#55197a"/>
<circle cx="161.30" cy="162.60" r="1.65" fill="#55197a"/>
<circle cx="156.40" cy="165.60" r="1.65" fill="#55197a"/>
<circle cx="158.70" cy="168.00" r="1.65" fill="#55197a"/>
<circle cx="157.70" cy="174.20" r="1.65" fill="#55197a"/>
<line x1="144.90" y1="145.20" x2="157.70" y2="145.20" stroke="#1a1a1a" stroke-width="1.0"/>
<path d="M149.45,140.55L149.45,142.85M148.45,141.12L150.45,142.27M148.45,142.27L150.45,141.12" stroke="#1a1a1a" stroke-width="0.95" stroke-linecap="round"/>
<path d="M153.15,140.55L153.15,142.85M152.15,141.12L154.15,142.27M152.15,142.27L154.15,141.12" stroke="#1a1a1a" stroke-width="0.95" stroke-linecap="round"/>
<text x="100.00" y="204.50" font-size="8.3" text-anchor="start" textLength="38.10" lengthAdjust="spacingAndGlyphs" fill="#1a1a1a">TC-G 1008</text>
<line x1="143.10" y1="202.40" x2="146.10" y2="202.40" stroke="#1a1a1a" stroke-width="0.85"/>
<line x1="156.00" y1="202.40" x2="159.80" y2="202.40" stroke="#1a1a1a" stroke-width="0.85"/>
<line x1="157.90" y1="200.50" x2="157.90" y2="204.30" stroke="#1a1a1a" stroke-width="0.85"/>
<g transform="translate(113.00,185.00) rotate(-90)">
<text x="0.00" y="0.00" font-size="9.8" textLength="16.60" lengthAdjust="spacingAndGlyphs" fill="#1a1a1a">Cells</text>
<text x="17.90" y="0.00" font-size="9.8" textLength="4.60" lengthAdjust="spacingAndGlyphs" fill="#1a1a1a">×</text>
<text x="23.40" y="0.00" font-size="9.8" textLength="8.80" lengthAdjust="spacingAndGlyphs" fill="#1a1a1a">10</text>
<text x="32.40" y="-3.40" font-size="7.2" textLength="3.30" lengthAdjust="spacingAndGlyphs" fill="#1a1a1a">6</text>
</g>
<text x="316.05" y="129.50" font-size="8.3" text-anchor="start" textLength="26.50" lengthAdjust="spacingAndGlyphs" fill="#1a1a1a">Day 14</text>
<line x1="315.80" y1="136.10" x2="315.80" y2="192.15" stroke="#1a1a1a" stroke-width="1.1"/>
<line x1="315.25" y1="191.60" x2="344.20" y2="191.60" stroke="#1a1a1a" stroke-width="1.1"/>
<line x1="312.90" y1="140.30" x2="315.80" y2="140.30" stroke="#1a1a1a" stroke-width="0.9900000000000001"/>
<text x="309.65" y="143.14" font-size="8.1" text-anchor="end" fill="#1a1a1a">250</text>
<line x1="312.90" y1="150.60" x2="315.80" y2="150.60" stroke="#1a1a1a" stroke-width="0.9900000000000001"/>
<text x="309.65" y="153.44" font-size="8.1" text-anchor="end" fill="#1a1a1a">200</text>
<line x1="312.90" y1="160.80" x2="315.80" y2="160.80" stroke="#1a1a1a" stroke-width="0.9900000000000001"/>
<text x="309.65" y="163.64" font-size="8.1" text-anchor="end" fill="#1a1a1a">150</text>
<line x1="312.90" y1="171.10" x2="315.80" y2="171.10" stroke="#1a1a1a" stroke-width="0.9900000000000001"/>
<text x="309.65" y="173.94" font-size="8.1" text-anchor="end" fill="#1a1a1a">100</text>
<line x1="312.90" y1="181.30" x2="315.80" y2="181.30" stroke="#1a1a1a" stroke-width="0.9900000000000001"/>
<text x="309.65" y="184.14" font-size="8.1" text-anchor="end" fill="#1a1a1a">50</text>
<line x1="312.90" y1="191.60" x2="315.80" y2="191.60" stroke="#1a1a1a" stroke-width="0.9900000000000001"/>
<text x="309.65" y="194.44" font-size="8.1" text-anchor="end" fill="#1a1a1a">0</text>
<line x1="322.50" y1="191.60" x2="322.50" y2="194.60" stroke="#1a1a1a" stroke-width="0.9900000000000001"/>
<line x1="335.70" y1="191.60" x2="335.70" y2="194.60" stroke="#1a1a1a" stroke-width="0.9900000000000001"/>
<rect x="318.70" y="172.70" width="7.80" height="18.90" fill="#a8dba6" stroke="#93d093" stroke-width="0.6"/>
<rect x="332.10" y="159.00" width="7.40" height="32.60" fill="#b39bc6" stroke="#9f84b6" stroke-width="0.6"/>
<line x1="322.50" y1="168.90" x2="322.50" y2="173.30" stroke="#1a1a1a" stroke-width="0.95"/>
<line x1="320.70" y1="168.90" x2="324.30" y2="168.90" stroke="#1a1a1a" stroke-width="0.95"/>
<line x1="320.70" y1="173.30" x2="324.30" y2="173.30" stroke="#1a1a1a" stroke-width="0.95"/>
<line x1="335.70" y1="158.20" x2="335.70" y2="162.60" stroke="#1a1a1a" stroke-width="0.95"/>
<line x1="333.90" y1="158.20" x2="337.50" y2="158.20" stroke="#1a1a1a" stroke-width="0.95"/>
<line x1="333.90" y1="162.60" x2="337.50" y2="162.60" stroke="#1a1a1a" stroke-width="0.95"/>
<circle cx="319.70" cy="160.90" r="1.65" fill="#2db34a"/>
<circle cx="319.70" cy="163.50" r="1.65" fill="#2db34a"/>
<circle cx="319.70" cy="176.50" r="1.65" fill="#2db34a"/>
<circle cx="319.70" cy="181.30" r="1.65" fill="#2db34a"/>
<circle cx="325.50" cy="162.30" r="1.65" fill="#2db34a"/>
<circle cx="325.50" cy="164.80" r="1.65" fill="#2db34a"/>
<circle cx="325.50" cy="174.20" r="1.65" fill="#2db34a"/>
<circle cx="325.50" cy="178.60" r="1.65" fill="#2db34a"/>
<circle cx="322.50" cy="173.60" r="1.65" fill="#2db34a"/>
<circle cx="335.70" cy="148.80" r="1.65" fill="#55197a"/>
<circle cx="335.70" cy="151.60" r="1.65" fill="#55197a"/>
<circle cx="335.70" cy="154.70" r="1.65" fill="#55197a"/>
<circle cx="332.70" cy="158.20" r="1.65" fill="#55197a"/>
<circle cx="338.90" cy="159.10" r="1.65" fill="#55197a"/>
<circle cx="336.20" cy="160.90" r="1.65" fill="#55197a"/>
<circle cx="333.20" cy="162.30" r="1.65" fill="#55197a"/>
<circle cx="335.70" cy="168.00" r="1.65" fill="#55197a"/>
<circle cx="335.30" cy="174.20" r="1.65" fill="#55197a"/>
<line x1="322.50" y1="145.20" x2="335.70" y2="145.20" stroke="#1a1a1a" stroke-width="1.0"/>
<path d="M327.25,140.55L327.25,142.85M326.25,141.12L328.25,142.27M326.25,142.27L328.25,141.12" stroke="#1a1a1a" stroke-width="0.95" stroke-linecap="round"/>
<path d="M330.95,140.55L330.95,142.85M329.95,141.12L331.95,142.27M329.95,142.27L331.95,141.12" stroke="#1a1a1a" stroke-width="0.95" stroke-linecap="round"/>
<text x="277.90" y="204.30" font-size="8.3" text-anchor="start" textLength="38.30" lengthAdjust="spacingAndGlyphs" fill="#1a1a1a">TC-G 1008</text>
<line x1="321.00" y1="202.20" x2="324.00" y2="202.20" stroke="#1a1a1a" stroke-width="0.85"/>
<line x1="333.50" y1="202.20" x2="337.30" y2="202.20" stroke="#1a1a1a" stroke-width="0.85"/>
<line x1="335.40" y1="200.30" x2="335.40" y2="204.10" stroke="#1a1a1a" stroke-width="0.85"/>
<g transform="translate(291.00,184.00) rotate(-90)">
<text x="0.00" y="0.00" font-size="9.8" textLength="16.60" lengthAdjust="spacingAndGlyphs" fill="#1a1a1a">Cells</text>
<text x="17.90" y="0.00" font-size="9.8" textLength="4.60" lengthAdjust="spacingAndGlyphs" fill="#1a1a1a">×</text>
<text x="23.40" y="0.00" font-size="9.8" textLength="8.80" lengthAdjust="spacingAndGlyphs" fill="#1a1a1a">10</text>
<text x="32.40" y="-3.40" font-size="7.2" textLength="3.30" lengthAdjust="spacingAndGlyphs" fill="#1a1a1a">6</text>
</g>
<text x="305.60" y="218.10" font-size="8.6" text-anchor="start" textLength="10.60" lengthAdjust="spacingAndGlyphs" fill="#1a1a1a">(B6</text>
<line x1="317.30" y1="215.20" x2="325.10" y2="215.20" stroke="#1a1a1a" stroke-width="1.05"/>
<circle cx="325.10" cy="215.20" r="1.0" fill="#1a1a1a"/>
<text x="327.10" y="218.10" font-size="8.6" text-anchor="start" textLength="25.60" lengthAdjust="spacingAndGlyphs" fill="#1a1a1a">BALB.B)</text>
<text x="389.50" y="129.90" font-size="8.3" text-anchor="start" textLength="27.00" lengthAdjust="spacingAndGlyphs" fill="#1a1a1a">Day 40</text>
<line x1="390.10" y1="136.30" x2="390.10" y2="192.65" stroke="#1a1a1a" stroke-width="1.1"/>
<line x1="389.55" y1="192.10" x2="416.00" y2="192.10" stroke="#1a1a1a" stroke-width="1.1"/>
<line x1="387.20" y1="140.30" x2="390.10" y2="140.30" stroke="#1a1a1a" stroke-width="0.9900000000000001"/>
<text x="383.95" y="143.14" font-size="8.1" text-anchor="end" fill="#1a1a1a">150</text>
<line x1="387.20" y1="157.60" x2="390.10" y2="157.60" stroke="#1a1a1a" stroke-width="0.9900000000000001"/>
<text x="383.95" y="160.44" font-size="8.1" text-anchor="end" fill="#1a1a1a">100</text>
<line x1="387.20" y1="174.80" x2="390.10" y2="174.80" stroke="#1a1a1a" stroke-width="0.9900000000000001"/>
<text x="383.95" y="177.64" font-size="8.1" text-anchor="end" fill="#1a1a1a">50</text>
<line x1="387.20" y1="192.10" x2="390.10" y2="192.10" stroke="#1a1a1a" stroke-width="0.9900000000000001"/>
<text x="383.95" y="194.94" font-size="8.1" text-anchor="end" fill="#1a1a1a">0</text>
<line x1="396.50" y1="192.10" x2="396.50" y2="195.10" stroke="#1a1a1a" stroke-width="0.9900000000000001"/>
<line x1="409.70" y1="192.10" x2="409.70" y2="195.10" stroke="#1a1a1a" stroke-width="0.9900000000000001"/>
<rect x="392.70" y="173.30" width="7.80" height="18.80" fill="#a8dba6" stroke="#93d093" stroke-width="0.6"/>
<rect x="406.10" y="160.80" width="7.40" height="31.30" fill="#b39bc6" stroke="#9f84b6" stroke-width="0.6"/>
<line x1="396.50" y1="170.60" x2="396.50" y2="174.70" stroke="#1a1a1a" stroke-width="0.95"/>
<line x1="394.70" y1="170.60" x2="398.30" y2="170.60" stroke="#1a1a1a" stroke-width="0.95"/>
<line x1="394.70" y1="174.70" x2="398.30" y2="174.70" stroke="#1a1a1a" stroke-width="0.95"/>
<line x1="409.70" y1="157.30" x2="409.70" y2="163.50" stroke="#1a1a1a" stroke-width="0.95"/>
<line x1="407.90" y1="157.30" x2="411.50" y2="157.30" stroke="#1a1a1a" stroke-width="0.95"/>
<line x1="407.90" y1="163.50" x2="411.50" y2="163.50" stroke="#1a1a1a" stroke-width="0.95"/>
<circle cx="396.50" cy="166.20" r="1.65" fill="#2db34a"/>
<circle cx="393.50" cy="169.40" r="1.65" fill="#2db34a"/>
<circle cx="399.70" cy="169.40" r="1.65" fill="#2db34a"/>
<circle cx="396.50" cy="172.60" r="1.65" fill="#2db34a"/>
<circle cx="393.50" cy="175.40" r="1.65" fill="#2db34a"/>
<circle cx="399.70" cy="175.40" r="1.65" fill="#2db34a"/>
<circle cx="396.50" cy="179.00" r="1.65" fill="#2db34a"/>
<circle cx="409.70" cy="149.90" r="1.65" fill="#55197a"/>
<circle cx="406.60" cy="155.20" r="1.65" fill="#55197a"/>
<circle cx="412.70" cy="157.30" r="1.65" fill="#55197a"/>
<circle cx="406.60" cy="163.00" r="1.65" fill="#55197a"/>
<circle cx="412.70" cy="163.00" r="1.65" fill="#55197a"/>
<circle cx="409.70" cy="168.30" r="1.65" fill="#55197a"/>
<line x1="396.90" y1="145.20" x2="409.70" y2="145.20" stroke="#1a1a1a" stroke-width="1.0"/>
<path d="M401.45,140.55L401.45,142.85M400.45,141.12L402.45,142.27M400.45,142.27L402.45,141.12" stroke="#1a1a1a" stroke-width="0.95" stroke-linecap="round"/>
<path d="M405.15,140.55L405.15,142.85M404.15,141.12L406.15,142.27M404.15,142.27L406.15,141.12" stroke="#1a1a1a" stroke-width="0.95" stroke-linecap="round"/>
<line x1="395.00" y1="202.20" x2="398.00" y2="202.20" stroke="#1a1a1a" stroke-width="0.85"/>
<line x1="407.40" y1="202.20" x2="411.20" y2="202.20" stroke="#1a1a1a" stroke-width="0.85"/>
<line x1="409.30" y1="200.30" x2="409.30" y2="204.10" stroke="#1a1a1a" stroke-width="0.85"/>
<g transform="translate(366.10,184.50) rotate(-90)">
<text x="0.00" y="0.00" font-size="9.8" textLength="16.60" lengthAdjust="spacingAndGlyphs" fill="#1a1a1a">Cells</text>
<text x="17.90" y="0.00" font-size="9.8" textLength="4.60" lengthAdjust="spacingAndGlyphs" fill="#1a1a1a">×</text>
<text x="23.40" y="0.00" font-size="9.8" textLength="8.80" lengthAdjust="spacingAndGlyphs" fill="#1a1a1a">10</text>
<text x="32.40" y="-3.40" font-size="7.2" textLength="3.30" lengthAdjust="spacingAndGlyphs" fill="#1a1a1a">6</text>
</g>
<text x="369.10" y="217.40" font-size="8.6" text-anchor="start" textLength="20.40" lengthAdjust="spacingAndGlyphs" fill="#1a1a1a">(RAG2</text>
<text x="389.90" y="213.80" font-size="5.8" text-anchor="start" textLength="10.20" lengthAdjust="spacingAndGlyphs" fill="#1a1a1a">GFP</text>
<line x1="400.90" y1="215.20" x2="407.80" y2="215.20" stroke="#1a1a1a" stroke-width="1.05"/>
<circle cx="407.80" cy="215.20" r="1.0" fill="#1a1a1a"/>
<text x="410.10" y="217.40" font-size="8.6" text-anchor="start" textLength="27.00" lengthAdjust="spacingAndGlyphs" fill="#1a1a1a">BALB.B)</text>
<text x="437.20" y="126.40" font-size="10.6" text-anchor="start" font-weight="bold" textLength="6.90" lengthAdjust="spacingAndGlyphs" fill="#000">E</text>
<text x="476.00" y="129.20" font-size="8.3" text-anchor="start" textLength="21.60" lengthAdjust="spacingAndGlyphs" fill="#1a1a1a">GFP+</text>
<line x1="461.30" y1="136.10" x2="461.30" y2="192.75" stroke="#1a1a1a" stroke-width="1.1"/>
<line x1="460.75" y1="192.20" x2="510.50" y2="192.20" stroke="#1a1a1a" stroke-width="1.1"/>
<line x1="458.40" y1="140.50" x2="461.30" y2="140.50" stroke="#1a1a1a" stroke-width="0.9900000000000001"/>
<text x="455.15" y="143.34" font-size="8.1" text-anchor="end" fill="#1a1a1a">4</text>
<line x1="458.40" y1="153.50" x2="461.30" y2="153.50" stroke="#1a1a1a" stroke-width="0.9900000000000001"/>
<text x="455.15" y="156.34" font-size="8.1" text-anchor="end" fill="#1a1a1a">3</text>
<line x1="458.40" y1="166.40" x2="461.30" y2="166.40" stroke="#1a1a1a" stroke-width="0.9900000000000001"/>
<text x="455.15" y="169.24" font-size="8.1" text-anchor="end" fill="#1a1a1a">2</text>
<line x1="458.40" y1="179.30" x2="461.30" y2="179.30" stroke="#1a1a1a" stroke-width="0.9900000000000001"/>
<text x="455.15" y="182.14" font-size="8.1" text-anchor="end" fill="#1a1a1a">1</text>
<line x1="458.40" y1="192.20" x2="461.30" y2="192.20" stroke="#1a1a1a" stroke-width="0.9900000000000001"/>
<text x="455.15" y="195.03" font-size="8.1" text-anchor="end" fill="#1a1a1a">0</text>
<line x1="469.10" y1="192.20" x2="469.10" y2="195.20" stroke="#1a1a1a" stroke-width="0.9900000000000001"/>
<line x1="478.50" y1="192.20" x2="478.50" y2="195.20" stroke="#1a1a1a" stroke-width="0.9900000000000001"/>
<line x1="495.60" y1="192.20" x2="495.60" y2="195.20" stroke="#1a1a1a" stroke-width="0.9900000000000001"/>
<line x1="505.00" y1="192.20" x2="505.00" y2="195.20" stroke="#1a1a1a" stroke-width="0.9900000000000001"/>
<rect x="466.10" y="174.20" width="6.80" height="18.00" fill="#a8dba6" stroke="#93d093" stroke-width="0.6"/>
<rect x="475.20" y="167.60" width="6.90" height="24.60" fill="#b39bc6" stroke="#9f84b6" stroke-width="0.6"/>
<rect x="492.60" y="184.70" width="6.50" height="7.50" fill="#a8dba6" stroke="#93d093" stroke-width="0.6"/>
<rect x="501.70" y="182.50" width="6.80" height="9.70" fill="#b39bc6" stroke="#9f84b6" stroke-width="0.6"/>
<line x1="478.50" y1="161.90" x2="478.50" y2="168.50" stroke="#1a1a1a" stroke-width="0.95"/>
<line x1="476.70" y1="161.90" x2="480.30" y2="161.90" stroke="#1a1a1a" stroke-width="0.95"/>
<line x1="476.70" y1="168.50" x2="480.30" y2="168.50" stroke="#1a1a1a" stroke-width="0.95"/>
<line x1="505.00" y1="180.60" x2="505.00" y2="183.40" stroke="#1a1a1a" stroke-width="0.95"/>
<line x1="503.20" y1="180.60" x2="506.80" y2="180.60" stroke="#1a1a1a" stroke-width="0.95"/>
<line x1="503.20" y1="183.40" x2="506.80" y2="183.40" stroke="#1a1a1a" stroke-width="0.95"/>
<circle cx="467.20" cy="173.60" r="1.65" fill="#2db34a"/>
<circle cx="469.20" cy="172.80" r="1.65" fill="#2db34a"/>
<circle cx="471.60" cy="173.60" r="1.65" fill="#2db34a"/>
<circle cx="468.60" cy="175.40" r="1.65" fill="#2db34a"/>
<circle cx="470.40" cy="175.40" r="1.65" fill="#2db34a"/>
<circle cx="478.50" cy="147.50" r="1.65" fill="#55197a"/>
<circle cx="475.70" cy="166.50" r="1.65" fill="#55197a"/>
<circle cx="481.20" cy="166.50" r="1.65" fill="#55197a"/>
<circle cx="479.00" cy="169.80" r="1.65" fill="#55197a"/>
<circle cx="476.60" cy="174.80" r="1.65" fill="#55197a"/>
<circle cx="478.80" cy="172.20" r="1.65" fill="#55197a"/>
<circle cx="494.00" cy="184.00" r="1.65" fill="#2db34a"/>
<circle cx="496.40" cy="183.40" r="1.65" fill="#2db34a"/>
<circle cx="498.20" cy="183.40" r="1.65" fill="#2db34a"/>
<circle cx="495.20" cy="185.40" r="1.65" fill="#2db34a"/>
<circle cx="505.00" cy="175.60" r="1.65" fill="#55197a"/>
<circle cx="502.70" cy="181.40" r="1.65" fill="#55197a"/>
<circle cx="507.20" cy="181.40" r="1.65" fill="#55197a"/>
<circle cx="503.90" cy="183.40" r="1.65" fill="#55197a"/>
<circle cx="506.40" cy="183.40" r="1.65" fill="#55197a"/>
<line x1="469.60" y1="156.20" x2="478.50" y2="156.20" stroke="#1a1a1a" stroke-width="1.0"/>
<path d="M474.05,150.75L474.05,153.05M473.05,151.33L475.05,152.47M473.05,152.47L475.05,151.33" stroke="#1a1a1a" stroke-width="0.95" stroke-linecap="round"/>
<line x1="495.10" y1="170.30" x2="505.00" y2="170.30" stroke="#1a1a1a" stroke-width="1.0"/>
<path d="M500.05,165.05L500.05,167.35M499.05,165.62L501.05,166.77M499.05,166.77L501.05,165.62" stroke="#1a1a1a" stroke-width="0.95" stroke-linecap="round"/>
<text x="463.20" y="204.70" font-size="8.3" text-anchor="start" textLength="21.60" lengthAdjust="spacingAndGlyphs" fill="#1a1a1a">CD4+</text>
<text x="489.25" y="204.70" font-size="8.3" text-anchor="start" textLength="21.30" lengthAdjust="spacingAndGlyphs" fill="#1a1a1a">CD8+</text>
<g transform="translate(444.70,184.50) rotate(-90)">
<text x="0.00" y="0.00" font-size="9.8" textLength="16.60" lengthAdjust="spacingAndGlyphs" fill="#1a1a1a">Cells</text>
<text x="17.90" y="0.00" font-size="9.8" textLength="4.60" lengthAdjust="spacingAndGlyphs" fill="#1a1a1a">×</text>
<text x="23.40" y="0.00" font-size="9.8" textLength="8.80" lengthAdjust="spacingAndGlyphs" fill="#1a1a1a">10</text>
<text x="32.40" y="-3.40" font-size="7.2" textLength="3.30" lengthAdjust="spacingAndGlyphs" fill="#1a1a1a">6</text>
</g>
<text x="7.00" y="241.20" font-size="10.6" text-anchor="start" font-weight="bold" textLength="6.70" lengthAdjust="spacingAndGlyphs" fill="#000">F</text>
<text x="66.65" y="244.80" font-size="8.3" text-anchor="start" textLength="21.70" lengthAdjust="spacingAndGlyphs" fill="#1a1a1a">CD4+</text>
<line x1="45.20" y1="247.80" x2="110.50" y2="247.80" stroke="#1a1a1a" stroke-width="0.95"/>
<text x="169.10" y="244.80" font-size="8.3" text-anchor="start" textLength="19.60" lengthAdjust="spacingAndGlyphs" fill="#1a1a1a">CD8+</text>
<line x1="123.70" y1="247.80" x2="235.60" y2="247.80" stroke="#1a1a1a" stroke-width="0.95"/>
<text x="47.60" y="257.20" font-size="8.3" text-anchor="start" textLength="21.30" lengthAdjust="spacingAndGlyphs" fill="#1a1a1a">Naive</text>
<text x="81.40" y="257.20" font-size="8.3" text-anchor="start" textLength="31.50" lengthAdjust="spacingAndGlyphs" fill="#1a1a1a">Memory</text>
<text x="125.40" y="257.20" font-size="8.3" text-anchor="start" textLength="22.00" lengthAdjust="spacingAndGlyphs" fill="#1a1a1a">Naive</text>
<text x="167.50" y="257.20" font-size="8.3" text-anchor="start" textLength="29.50" lengthAdjust="spacingAndGlyphs" fill="#1a1a1a">Effector</text>
<text x="206.30" y="257.20" font-size="8.3" text-anchor="start" textLength="30.90" lengthAdjust="spacingAndGlyphs" fill="#1a1a1a">Memory</text>
<line x1="45.60" y1="263.20" x2="45.60" y2="317.55" stroke="#1a1a1a" stroke-width="1.1"/>
<line x1="45.05" y1="317.00" x2="70.00" y2="317.00" stroke="#1a1a1a" stroke-width="1.1"/>
<line x1="42.70" y1="266.20" x2="45.60" y2="266.20" stroke="#1a1a1a" stroke-width="0.9900000000000001"/>
<text x="39.45" y="269.03" font-size="8.1" text-anchor="end" fill="#1a1a1a">15</text>
<line x1="42.70" y1="283.13" x2="45.60" y2="283.13" stroke="#1a1a1a" stroke-width="0.9900000000000001"/>
<text x="39.45" y="285.97" font-size="8.1" text-anchor="end" fill="#1a1a1a">10</text>
<line x1="42.70" y1="300.07" x2="45.60" y2="300.07" stroke="#1a1a1a" stroke-width="0.9900000000000001"/>
<text x="39.45" y="302.90" font-size="8.1" text-anchor="end" fill="#1a1a1a">5</text>
<line x1="42.70" y1="317.00" x2="45.60" y2="317.00" stroke="#1a1a1a" stroke-width="0.9900000000000001"/>
<text x="39.45" y="319.83" font-size="8.1" text-anchor="end" fill="#1a1a1a">0</text>
<line x1="53.00" y1="317.00" x2="53.00" y2="320.00" stroke="#1a1a1a" stroke-width="0.9900000000000001"/>
<line x1="64.20" y1="317.00" x2="64.20" y2="320.00" stroke="#1a1a1a" stroke-width="0.9900000000000001"/>
<rect x="49.00" y="304.00" width="7.50" height="13.00" fill="#a8dba6" stroke="#93d093" stroke-width="0.6"/>
<rect x="60.80" y="300.50" width="7.20" height="16.50" fill="#b39bc6" stroke="#9f84b6" stroke-width="0.6"/>
<line x1="53.00" y1="302.60" x2="53.00" y2="305.00" stroke="#1a1a1a" stroke-width="0.95"/>
<line x1="51.20" y1="302.60" x2="54.80" y2="302.60" stroke="#1a1a1a" stroke-width="0.95"/>
<line x1="51.20" y1="305.00" x2="54.80" y2="305.00" stroke="#1a1a1a" stroke-width="0.95"/>
<line x1="64.20" y1="295.40" x2="64.20" y2="302.00" stroke="#1a1a1a" stroke-width="0.95"/>
<line x1="62.40" y1="295.40" x2="66.00" y2="295.40" stroke="#1a1a1a" stroke-width="0.95"/>
<line x1="62.40" y1="302.00" x2="66.00" y2="302.00" stroke="#1a1a1a" stroke-width="0.95"/>
<circle cx="49.50" cy="302.90" r="1.65" fill="#2db34a"/>
<circle cx="51.80" cy="304.30" r="1.65" fill="#2db34a"/>
<circle cx="54.40" cy="304.30" r="1.65" fill="#2db34a"/>
<circle cx="56.20" cy="304.40" r="1.65" fill="#2db34a"/>
<circle cx="53.00" cy="307.80" r="1.65" fill="#2db34a"/>
<circle cx="64.20" cy="283.70" r="1.65" fill="#55197a"/>
<circle cx="61.90" cy="298.40" r="1.65" fill="#55197a"/>
<circle cx="64.20" cy="297.50" r="1.65" fill="#55197a"/>
<circle cx="66.90" cy="299.30" r="1.65" fill="#55197a"/>
<circle cx="62.40" cy="301.40" r="1.65" fill="#55197a"/>
<circle cx="66.00" cy="302.40" r="1.65" fill="#55197a"/>
<circle cx="64.20" cy="304.60" r="1.65" fill="#55197a"/>
<line x1="53.50" y1="277.10" x2="63.70" y2="277.10" stroke="#1a1a1a" stroke-width="1.0"/>
<path d="M58.60,272.35L58.60,274.65M57.60,272.93L59.60,274.07M57.60,274.07L59.60,272.93" stroke="#1a1a1a" stroke-width="0.95" stroke-linecap="round"/>
<line x1="84.60" y1="263.20" x2="84.60" y2="317.55" stroke="#1a1a1a" stroke-width="1.1"/>
<line x1="84.05" y1="317.00" x2="110.50" y2="317.00" stroke="#1a1a1a" stroke-width="1.1"/>
<line x1="81.70" y1="266.20" x2="84.60" y2="266.20" stroke="#1a1a1a" stroke-width="0.9900000000000001"/>
<text x="78.45" y="269.03" font-size="8.1" text-anchor="end" fill="#1a1a1a">8</text>
<line x1="81.70" y1="278.90" x2="84.60" y2="278.90" stroke="#1a1a1a" stroke-width="0.9900000000000001"/>
<text x="78.45" y="281.73" font-size="8.1" text-anchor="end" fill="#1a1a1a">6</text>
<line x1="81.70" y1="291.60" x2="84.60" y2="291.60" stroke="#1a1a1a" stroke-width="0.9900000000000001"/>
<text x="78.45" y="294.44" font-size="8.1" text-anchor="end" fill="#1a1a1a">4</text>
<line x1="81.70" y1="304.30" x2="84.60" y2="304.30" stroke="#1a1a1a" stroke-width="0.9900000000000001"/>
<text x="78.45" y="307.13" font-size="8.1" text-anchor="end" fill="#1a1a1a">2</text>
<line x1="81.70" y1="317.00" x2="84.60" y2="317.00" stroke="#1a1a1a" stroke-width="0.9900000000000001"/>
<text x="78.45" y="319.83" font-size="8.1" text-anchor="end" fill="#1a1a1a">0</text>
<line x1="92.10" y1="317.00" x2="92.10" y2="320.00" stroke="#1a1a1a" stroke-width="0.9900000000000001"/>
<line x1="103.30" y1="317.00" x2="103.30" y2="320.00" stroke="#1a1a1a" stroke-width="0.9900000000000001"/>
<rect x="88.80" y="296.90" width="7.20" height="20.10" fill="#a8dba6" stroke="#93d093" stroke-width="0.6"/>
<rect x="100.00" y="288.60" width="7.40" height="28.40" fill="#b39bc6" stroke="#9f84b6" stroke-width="0.6"/>
<line x1="92.10" y1="295.20" x2="92.10" y2="298.40" stroke="#1a1a1a" stroke-width="0.95"/>
<line x1="90.30" y1="295.20" x2="93.90" y2="295.20" stroke="#1a1a1a" stroke-width="0.95"/>
<line x1="90.30" y1="298.40" x2="93.90" y2="298.40" stroke="#1a1a1a" stroke-width="0.95"/>
<line x1="103.30" y1="284.70" x2="103.30" y2="291.30" stroke="#1a1a1a" stroke-width="0.95"/>
<line x1="101.50" y1="284.70" x2="105.10" y2="284.70" stroke="#1a1a1a" stroke-width="0.95"/>
<line x1="101.50" y1="291.30" x2="105.10" y2="291.30" stroke="#1a1a1a" stroke-width="0.95"/>
<circle cx="92.10" cy="290.80" r="1.65" fill="#2db34a"/>
<circle cx="89.20" cy="296.10" r="1.65" fill="#2db34a"/>
<circle cx="91.40" cy="296.10" r="1.65" fill="#2db34a"/>
<circle cx="93.90" cy="296.10" r="1.65" fill="#2db34a"/>
<circle cx="89.60" cy="298.40" r="1.65" fill="#2db34a"/>
<circle cx="94.40" cy="298.40" r="1.65" fill="#2db34a"/>
<circle cx="91.60" cy="300.20" r="1.65" fill="#2db34a"/>
<circle cx="103.30" cy="275.90" r="1.65" fill="#55197a"/>
<circle cx="100.60" cy="283.30" r="1.65" fill="#55197a"/>
<circle cx="106.90" cy="285.10" r="1.65" fill="#55197a"/>
<circle cx="103.30" cy="289.50" r="1.65" fill="#55197a"/>
<circle cx="100.20" cy="297.00" r="1.65" fill="#55197a"/>
<circle cx="106.30" cy="295.40" r="1.65" fill="#55197a"/>
<line x1="93.90" y1="272.30" x2="103.30" y2="272.30" stroke="#1a1a1a" stroke-width="1.0"/>
<path d="M98.60,267.55L98.60,269.85M97.60,268.12L99.60,269.27M97.60,269.27L99.60,268.12" stroke="#1a1a1a" stroke-width="0.95" stroke-linecap="round"/>
<line x1="123.90" y1="263.20" x2="123.90" y2="317.55" stroke="#1a1a1a" stroke-width="1.1"/>
<line x1="123.35" y1="317.00" x2="149.00" y2="317.00" stroke="#1a1a1a" stroke-width="1.1"/>
<line x1="121.00" y1="266.20" x2="123.90" y2="266.20" stroke="#1a1a1a" stroke-width="0.9900000000000001"/>
<text x="117.75" y="269.03" font-size="8.1" text-anchor="end" fill="#1a1a1a">3</text>
<line x1="121.00" y1="283.13" x2="123.90" y2="283.13" stroke="#1a1a1a" stroke-width="0.9900000000000001"/>
<text x="117.75" y="285.97" font-size="8.1" text-anchor="end" fill="#1a1a1a">2</text>
<line x1="121.00" y1="300.07" x2="123.90" y2="300.07" stroke="#1a1a1a" stroke-width="0.9900000000000001"/>
<text x="117.75" y="302.90" font-size="8.1" text-anchor="end" fill="#1a1a1a">1</text>
<line x1="121.00" y1="317.00" x2="123.90" y2="317.00" stroke="#1a1a1a" stroke-width="0.9900000000000001"/>
<text x="117.75" y="319.83" font-size="8.1" text-anchor="end" fill="#1a1a1a">0</text>
<line x1="131.00" y1="317.00" x2="131.00" y2="320.00" stroke="#1a1a1a" stroke-width="0.9900000000000001"/>
<line x1="142.20" y1="317.00" x2="142.20" y2="320.00" stroke="#1a1a1a" stroke-width="0.9900000000000001"/>
<rect x="127.40" y="295.20" width="7.40" height="21.80" fill="#a8dba6" stroke="#93d093" stroke-width="0.6"/>
<rect x="139.00" y="286.30" width="7.00" height="30.70" fill="#b39bc6" stroke="#9f84b6" stroke-width="0.6"/>
<line x1="131.00" y1="292.20" x2="131.00" y2="296.60" stroke="#1a1a1a" stroke-width="0.95"/>
<line x1="129.20" y1="292.20" x2="132.80" y2="292.20" stroke="#1a1a1a" stroke-width="0.95"/>
<line x1="129.20" y1="296.60" x2="132.80" y2="296.60" stroke="#1a1a1a" stroke-width="0.95"/>
<line x1="142.20" y1="281.90" x2="142.20" y2="288.60" stroke="#1a1a1a" stroke-width="0.95"/>
<line x1="140.40" y1="281.90" x2="144.00" y2="281.90" stroke="#1a1a1a" stroke-width="0.95"/>
<line x1="140.40" y1="288.60" x2="144.00" y2="288.60" stroke="#1a1a1a" stroke-width="0.95"/>
<circle cx="131.00" cy="285.10" r="1.65" fill="#2db34a"/>
<circle cx="128.60" cy="291.80" r="1.65" fill="#2db34a"/>
<circle cx="131.50" cy="291.30" r="1.65" fill="#2db34a"/>
<circle cx="128.00" cy="296.60" r="1.65" fill="#2db34a"/>
<circle cx="129.80" cy="298.40" r="1.65" fill="#2db34a"/>
<circle cx="132.60" cy="297.60" r="1.65" fill="#2db34a"/>
<circle cx="134.20" cy="298.90" r="1.65" fill="#2db34a"/>
<circle cx="142.20" cy="274.10" r="1.65" fill="#55197a"/>
<circle cx="139.60" cy="278.30" r="1.65" fill="#55197a"/>
<circle cx="145.40" cy="280.60" r="1.65" fill="#55197a"/>
<circle cx="142.40" cy="285.00" r="1.65" fill="#55197a"/>
<circle cx="141.30" cy="290.40" r="1.65" fill="#55197a"/>
<circle cx="142.20" cy="294.90" r="1.65" fill="#55197a"/>
<line x1="132.10" y1="271.20" x2="141.70" y2="271.20" stroke="#1a1a1a" stroke-width="1.0"/>
<path d="M136.90,266.55L136.90,268.85M135.90,267.12L137.90,268.27M135.90,268.27L137.90,267.12" stroke="#1a1a1a" stroke-width="0.95" stroke-linecap="round"/>
<line x1="168.80" y1="263.20" x2="168.80" y2="317.55" stroke="#1a1a1a" stroke-width="1.1"/>
<line x1="168.25" y1="317.00" x2="194.00" y2="317.00" stroke="#1a1a1a" stroke-width="1.1"/>
<line x1="165.90" y1="266.20" x2="168.80" y2="266.20" stroke="#1a1a1a" stroke-width="0.9900000000000001"/>
<text x="162.65" y="269.03" font-size="8.1" text-anchor="end" fill="#1a1a1a">1.5</text>
<line x1="165.90" y1="283.13" x2="168.80" y2="283.13" stroke="#1a1a1a" stroke-width="0.9900000000000001"/>
<text x="162.65" y="285.97" font-size="8.1" text-anchor="end" fill="#1a1a1a">1.0</text>
<line x1="165.90" y1="300.07" x2="168.80" y2="300.07" stroke="#1a1a1a" stroke-width="0.9900000000000001"/>
<text x="162.65" y="302.90" font-size="8.1" text-anchor="end" fill="#1a1a1a">0.5</text>
<line x1="165.90" y1="317.00" x2="168.80" y2="317.00" stroke="#1a1a1a" stroke-width="0.9900000000000001"/>
<text x="162.65" y="319.83" font-size="8.1" text-anchor="end" fill="#1a1a1a">0</text>
<line x1="176.80" y1="317.00" x2="176.80" y2="320.00" stroke="#1a1a1a" stroke-width="0.9900000000000001"/>
<line x1="188.40" y1="317.00" x2="188.40" y2="320.00" stroke="#1a1a1a" stroke-width="0.9900000000000001"/>
<rect x="173.20" y="303.50" width="6.90" height="13.50" fill="#a8dba6" stroke="#93d093" stroke-width="0.6"/>
<rect x="184.60" y="294.30" width="7.60" height="22.70" fill="#b39bc6" stroke="#9f84b6" stroke-width="0.6"/>
<line x1="176.80" y1="300.70" x2="176.80" y2="304.60" stroke="#1a1a1a" stroke-width="0.95"/>
<line x1="175.00" y1="300.70" x2="178.60" y2="300.70" stroke="#1a1a1a" stroke-width="0.95"/>
<line x1="175.00" y1="304.60" x2="178.60" y2="304.60" stroke="#1a1a1a" stroke-width="0.95"/>
<line x1="188.40" y1="290.10" x2="188.40" y2="297.50" stroke="#1a1a1a" stroke-width="0.95"/>
<line x1="186.60" y1="290.10" x2="190.20" y2="290.10" stroke="#1a1a1a" stroke-width="0.95"/>
<line x1="186.60" y1="297.50" x2="190.20" y2="297.50" stroke="#1a1a1a" stroke-width="0.95"/>
<circle cx="176.80" cy="297.50" r="1.65" fill="#2db34a"/>
<circle cx="174.00" cy="300.20" r="1.65" fill="#2db34a"/>
<circle cx="179.60" cy="299.70" r="1.65" fill="#2db34a"/>
<circle cx="175.10" cy="304.60" r="1.65" fill="#2db34a"/>
<circle cx="178.90" cy="305.50" r="1.65" fill="#2db34a"/>
<circle cx="174.00" cy="308.80" r="1.65" fill="#2db34a"/>
<circle cx="177.70" cy="308.50" r="1.65" fill="#2db34a"/>
<circle cx="188.40" cy="279.40" r="1.65" fill="#55197a"/>
<circle cx="188.40" cy="284.20" r="1.65" fill="#55197a"/>
<circle cx="185.20" cy="300.20" r="1.65" fill="#55197a"/>
<circle cx="191.40" cy="300.20" r="1.65" fill="#55197a"/>
<circle cx="186.40" cy="296.80" r="1.65" fill="#55197a"/>
<circle cx="190.00" cy="297.40" r="1.65" fill="#55197a"/>
<line x1="177.20" y1="275.30" x2="186.10" y2="275.30" stroke="#1a1a1a" stroke-width="1.0"/>
<text x="181.65" y="272.31" font-size="7.8" text-anchor="middle" fill="#1a1a1a">ns</text>
<line x1="208.80" y1="263.20" x2="208.80" y2="317.55" stroke="#1a1a1a" stroke-width="1.1"/>
<line x1="208.25" y1="317.00" x2="235.10" y2="317.00" stroke="#1a1a1a" stroke-width="1.1"/>
<line x1="205.90" y1="266.20" x2="208.80" y2="266.20" stroke="#1a1a1a" stroke-width="0.9900000000000001"/>
<text x="202.65" y="269.03" font-size="8.1" text-anchor="end" fill="#1a1a1a">3</text>
<line x1="205.90" y1="283.13" x2="208.80" y2="283.13" stroke="#1a1a1a" stroke-width="0.9900000000000001"/>
<text x="202.65" y="285.97" font-size="8.1" text-anchor="end" fill="#1a1a1a">2</text>
<line x1="205.90" y1="300.07" x2="208.80" y2="300.07" stroke="#1a1a1a" stroke-width="0.9900000000000001"/>
<text x="202.65" y="302.90" font-size="8.1" text-anchor="end" fill="#1a1a1a">1</text>
<line x1="205.90" y1="317.00" x2="208.80" y2="317.00" stroke="#1a1a1a" stroke-width="0.9900000000000001"/>
<text x="202.65" y="319.83" font-size="8.1" text-anchor="end" fill="#1a1a1a">0</text>
<line x1="217.00" y1="317.00" x2="217.00" y2="320.00" stroke="#1a1a1a" stroke-width="0.9900000000000001"/>
<line x1="228.00" y1="317.00" x2="228.00" y2="320.00" stroke="#1a1a1a" stroke-width="0.9900000000000001"/>
<rect x="213.20" y="302.80" width="7.00" height="14.20" fill="#a8dba6" stroke="#93d093" stroke-width="0.6"/>
<rect x="223.80" y="299.20" width="8.30" height="17.80" fill="#b39bc6" stroke="#9f84b6" stroke-width="0.6"/>
<line x1="217.00" y1="299.30" x2="217.00" y2="305.50" stroke="#1a1a1a" stroke-width="0.95"/>
<line x1="215.20" y1="299.30" x2="218.80" y2="299.30" stroke="#1a1a1a" stroke-width="0.95"/>
<line x1="215.20" y1="305.50" x2="218.80" y2="305.50" stroke="#1a1a1a" stroke-width="0.95"/>
<line x1="228.00" y1="293.10" x2="228.00" y2="303.70" stroke="#1a1a1a" stroke-width="0.95"/>
<line x1="226.20" y1="293.10" x2="229.80" y2="293.10" stroke="#1a1a1a" stroke-width="0.95"/>
<line x1="226.20" y1="303.70" x2="229.80" y2="303.70" stroke="#1a1a1a" stroke-width="0.95"/>
<circle cx="217.00" cy="289.00" r="1.65" fill="#2db34a"/>
<circle cx="217.00" cy="293.60" r="1.65" fill="#2db34a"/>
<circle cx="217.00" cy="297.50" r="1.65" fill="#2db34a"/>
<circle cx="214.00" cy="308.50" r="1.65" fill="#2db34a"/>
<circle cx="219.80" cy="308.50" r="1.65" fill="#2db34a"/>
<circle cx="217.00" cy="313.30" r="1.65" fill="#2db34a"/>
<circle cx="228.40" cy="275.30" r="1.65" fill="#55197a"/>
<circle cx="224.60" cy="293.60" r="1.65" fill="#55197a"/>
<circle cx="231.20" cy="295.70" r="1.65" fill="#55197a"/>
<circle cx="224.80" cy="309.40" r="1.65" fill="#55197a"/>
<circle cx="231.20" cy="308.50" r="1.65" fill="#55197a"/>
<line x1="218.20" y1="280.70" x2="227.60" y2="280.70" stroke="#1a1a1a" stroke-width="1.0"/>
<text x="222.90" y="277.51" font-size="7.8" text-anchor="middle" fill="#1a1a1a">ns</text>
<text x="7.10" y="329.40" font-size="8.3" text-anchor="start" textLength="38.10" lengthAdjust="spacingAndGlyphs" fill="#1a1a1a">TC-G 1008</text>
<line x1="51.50" y1="327.30" x2="54.50" y2="327.30" stroke="#1a1a1a" stroke-width="0.85"/>
<line x1="62.30" y1="327.30" x2="66.10" y2="327.30" stroke="#1a1a1a" stroke-width="0.85"/>
<line x1="64.20" y1="325.40" x2="64.20" y2="329.20" stroke="#1a1a1a" stroke-width="0.85"/>
<line x1="90.60" y1="327.30" x2="93.60" y2="327.30" stroke="#1a1a1a" stroke-width="0.85"/>
<line x1="101.40" y1="327.30" x2="105.20" y2="327.30" stroke="#1a1a1a" stroke-width="0.85"/>
<line x1="103.30" y1="325.40" x2="103.30" y2="329.20" stroke="#1a1a1a" stroke-width="0.85"/>
<line x1="129.50" y1="327.30" x2="132.50" y2="327.30" stroke="#1a1a1a" stroke-width="0.85"/>
<line x1="140.30" y1="327.30" x2="144.10" y2="327.30" stroke="#1a1a1a" stroke-width="0.85"/>
<line x1="142.20" y1="325.40" x2="142.20" y2="329.20" stroke="#1a1a1a" stroke-width="0.85"/>
<line x1="175.30" y1="327.30" x2="178.30" y2="327.30" stroke="#1a1a1a" stroke-width="0.85"/>
<line x1="186.50" y1="327.30" x2="190.30" y2="327.30" stroke="#1a1a1a" stroke-width="0.85"/>
<line x1="188.40" y1="325.40" x2="188.40" y2="329.20" stroke="#1a1a1a" stroke-width="0.85"/>
<line x1="215.50" y1="327.30" x2="218.50" y2="327.30" stroke="#1a1a1a" stroke-width="0.85"/>
<line x1="226.10" y1="327.30" x2="229.90" y2="327.30" stroke="#1a1a1a" stroke-width="0.85"/>
<line x1="228.00" y1="325.40" x2="228.00" y2="329.20" stroke="#1a1a1a" stroke-width="0.85"/>
<g transform="translate(24.40,309.40) rotate(-90)">
<text x="0.00" y="0.00" font-size="9.2" textLength="16.20" lengthAdjust="spacingAndGlyphs" fill="#1a1a1a">Cells</text>
<text x="18.00" y="0.00" font-size="9.2" textLength="11.40" lengthAdjust="spacingAndGlyphs" fill="#1a1a1a">(10</text>
<text x="29.60" y="-3.30" font-size="7.0" textLength="3.00" lengthAdjust="spacingAndGlyphs" fill="#1a1a1a">6</text>
<text x="32.40" y="0.00" font-size="9.2" textLength="2.40" lengthAdjust="spacingAndGlyphs" fill="#1a1a1a">)</text>
</g>
<text x="247.60" y="240.20" font-size="10.6" text-anchor="start" font-weight="bold" textLength="8.60" lengthAdjust="spacingAndGlyphs" fill="#000">G</text>
<text x="287.20" y="256.60" font-size="8.3" text-anchor="start" textLength="23.00" lengthAdjust="spacingAndGlyphs" fill="#1a1a1a">T cells</text>
<line x1="286.40" y1="261.30" x2="286.40" y2="317.65" stroke="#1a1a1a" stroke-width="1.1"/>
<line x1="285.85" y1="317.10" x2="311.40" y2="317.10" stroke="#1a1a1a" stroke-width="1.1"/>
<line x1="283.50" y1="265.40" x2="286.40" y2="265.40" stroke="#1a1a1a" stroke-width="0.9900000000000001"/>
<text x="280.25" y="268.23" font-size="8.1" text-anchor="end" fill="#1a1a1a">1.0</text>
<line x1="283.50" y1="275.70" x2="286.40" y2="275.70" stroke="#1a1a1a" stroke-width="0.9900000000000001"/>
<text x="280.25" y="278.53" font-size="8.1" text-anchor="end" fill="#1a1a1a">0.8</text>
<line x1="283.50" y1="286.10" x2="286.40" y2="286.10" stroke="#1a1a1a" stroke-width="0.9900000000000001"/>
<text x="280.25" y="288.94" font-size="8.1" text-anchor="end" fill="#1a1a1a">0.6</text>
<line x1="283.50" y1="296.40" x2="286.40" y2="296.40" stroke="#1a1a1a" stroke-width="0.9900000000000001"/>
<text x="280.25" y="299.23" font-size="8.1" text-anchor="end" fill="#1a1a1a">0.4</text>
<line x1="283.50" y1="306.80" x2="286.40" y2="306.80" stroke="#1a1a1a" stroke-width="0.9900000000000001"/>
<text x="280.25" y="309.63" font-size="8.1" text-anchor="end" fill="#1a1a1a">0.2</text>
<line x1="283.50" y1="317.10" x2="286.40" y2="317.10" stroke="#1a1a1a" stroke-width="0.9900000000000001"/>
<text x="280.25" y="319.94" font-size="8.1" text-anchor="end" fill="#1a1a1a">0.0</text>
<line x1="293.00" y1="317.10" x2="293.00" y2="320.10" stroke="#1a1a1a" stroke-width="0.9900000000000001"/>
<line x1="304.50" y1="317.10" x2="304.50" y2="320.10" stroke="#1a1a1a" stroke-width="0.9900000000000001"/>
<rect x="289.70" y="286.30" width="7.30" height="30.80" fill="#a8dba6" stroke="#93d093" stroke-width="0.6"/>
<rect x="301.10" y="287.60" width="7.50" height="29.50" fill="#b39bc6" stroke="#9f84b6" stroke-width="0.6"/>
<line x1="293.00" y1="282.90" x2="293.00" y2="287.50" stroke="#1a1a1a" stroke-width="0.95"/>
<line x1="291.20" y1="282.90" x2="294.80" y2="282.90" stroke="#1a1a1a" stroke-width="0.95"/>
<line x1="291.20" y1="287.50" x2="294.80" y2="287.50" stroke="#1a1a1a" stroke-width="0.95"/>
<line x1="304.50" y1="283.90" x2="304.50" y2="289.80" stroke="#1a1a1a" stroke-width="0.95"/>
<line x1="302.70" y1="283.90" x2="306.30" y2="283.90" stroke="#1a1a1a" stroke-width="0.95"/>
<line x1="302.70" y1="289.80" x2="306.30" y2="289.80" stroke="#1a1a1a" stroke-width="0.95"/>
<circle cx="293.00" cy="276.70" r="1.65" fill="#2db34a"/>
<circle cx="293.00" cy="278.80" r="1.65" fill="#2db34a"/>
<circle cx="293.00" cy="284.00" r="1.65" fill="#2db34a"/>
<circle cx="289.60" cy="287.30" r="1.65" fill="#2db34a"/>
<circle cx="296.50" cy="287.90" r="1.65" fill="#2db34a"/>
<circle cx="292.70" cy="293.10" r="1.65" fill="#2db34a"/>
<circle cx="301.40" cy="280.20" r="1.65" fill="#55197a"/>
<circle cx="304.60" cy="280.20" r="1.65" fill="#55197a"/>
<circle cx="308.00" cy="280.20" r="1.65" fill="#55197a"/>
<circle cx="304.50" cy="287.90" r="1.65" fill="#55197a"/>
<circle cx="302.40" cy="296.00" r="1.65" fill="#55197a"/>
<circle cx="306.40" cy="296.00" r="1.65" fill="#55197a"/>
<line x1="295.00" y1="272.60" x2="304.90" y2="272.60" stroke="#1a1a1a" stroke-width="1.0"/>
<text x="299.95" y="269.91" font-size="7.8" text-anchor="middle" fill="#1a1a1a">ns</text>
<text x="247.50" y="329.70" font-size="8.3" text-anchor="start" textLength="38.90" lengthAdjust="spacingAndGlyphs" fill="#1a1a1a">TC-G 1008</text>
<line x1="291.70" y1="327.60" x2="294.70" y2="327.60" stroke="#1a1a1a" stroke-width="0.85"/>
<line x1="302.40" y1="327.60" x2="306.20" y2="327.60" stroke="#1a1a1a" stroke-width="0.85"/>
<line x1="304.30" y1="325.70" x2="304.30" y2="329.50" stroke="#1a1a1a" stroke-width="0.85"/>
<g transform="translate(264.30,311.20) rotate(-90)">
<text x="0" y="0" font-size="9.2" textLength="39.50" lengthAdjust="spacingAndGlyphs" fill="#1a1a1a">Absorbance</text>
</g>
<text x="322.60" y="240.20" font-size="10.6" text-anchor="start" font-weight="bold" textLength="8.00" lengthAdjust="spacingAndGlyphs" fill="#000">H</text>
<text x="375.00" y="256.70" font-size="8.3" text-anchor="start" textLength="21.30" lengthAdjust="spacingAndGlyphs" fill="#1a1a1a">CD4+</text>
<text x="466.30" y="256.70" font-size="8.3" text-anchor="start" textLength="21.20" lengthAdjust="spacingAndGlyphs" fill="#1a1a1a">CD8+</text>
<g transform="translate(329.20,308.60) rotate(-90)">
<text x="0" y="0" font-size="9.2" textLength="35.20" lengthAdjust="spacingAndGlyphs" fill="#1a1a1a">Proportion</text>
</g>
<line x1="350.40" y1="261.30" x2="350.40" y2="317.65" stroke="#1a1a1a" stroke-width="1.1"/>
<line x1="349.85" y1="317.10" x2="421.00" y2="317.10" stroke="#1a1a1a" stroke-width="1.1"/>
<line x1="347.50" y1="265.40" x2="350.40" y2="265.40" stroke="#1a1a1a" stroke-width="0.9900000000000001"/>
<text x="344.25" y="268.23" font-size="8.1" text-anchor="end" fill="#1a1a1a">50</text>
<line x1="347.50" y1="275.70" x2="350.40" y2="275.70" stroke="#1a1a1a" stroke-width="0.9900000000000001"/>
<text x="344.25" y="278.53" font-size="8.1" text-anchor="end" fill="#1a1a1a">40</text>
<line x1="347.50" y1="286.10" x2="350.40" y2="286.10" stroke="#1a1a1a" stroke-width="0.9900000000000001"/>
<text x="344.25" y="288.94" font-size="8.1" text-anchor="end" fill="#1a1a1a">30</text>
<line x1="347.50" y1="296.40" x2="350.40" y2="296.40" stroke="#1a1a1a" stroke-width="0.9900000000000001"/>
<text x="344.25" y="299.23" font-size="8.1" text-anchor="end" fill="#1a1a1a">20</text>
<line x1="347.50" y1="306.80" x2="350.40" y2="306.80" stroke="#1a1a1a" stroke-width="0.9900000000000001"/>
<text x="344.25" y="309.63" font-size="8.1" text-anchor="end" fill="#1a1a1a">10</text>
<line x1="347.50" y1="317.10" x2="350.40" y2="317.10" stroke="#1a1a1a" stroke-width="0.9900000000000001"/>
<text x="344.25" y="319.94" font-size="8.1" text-anchor="end" fill="#1a1a1a">0</text>
<line x1="357.00" y1="317.10" x2="357.00" y2="320.10" stroke="#1a1a1a" stroke-width="0.9900000000000001"/>
<line x1="367.90" y1="317.10" x2="367.90" y2="320.10" stroke="#1a1a1a" stroke-width="0.9900000000000001"/>
<line x1="380.50" y1="317.10" x2="380.50" y2="320.10" stroke="#1a1a1a" stroke-width="0.9900000000000001"/>
<line x1="391.60" y1="317.10" x2="391.60" y2="320.10" stroke="#1a1a1a" stroke-width="0.9900000000000001"/>
<line x1="404.10" y1="317.10" x2="404.10" y2="320.10" stroke="#1a1a1a" stroke-width="0.9900000000000001"/>
<line x1="415.20" y1="317.10" x2="415.20" y2="320.10" stroke="#1a1a1a" stroke-width="0.9900000000000001"/>
<rect x="353.20" y="301.90" width="7.40" height="15.20" fill="#a8dba6" stroke="#93d093" stroke-width="0.6"/>
<rect x="364.30" y="298.70" width="7.00" height="18.40" fill="#b39bc6" stroke="#9f84b6" stroke-width="0.6"/>
<rect x="376.80" y="307.90" width="7.20" height="9.20" fill="#a8dba6" stroke="#93d093" stroke-width="0.6"/>
<rect x="388.20" y="307.30" width="6.90" height="9.80" fill="#b39bc6" stroke="#9f84b6" stroke-width="0.6"/>
<rect x="400.60" y="288.10" width="7.30" height="29.00" fill="#a8dba6" stroke="#93d093" stroke-width="0.6"/>
<rect x="411.90" y="288.90" width="7.40" height="28.20" fill="#b39bc6" stroke="#9f84b6" stroke-width="0.6"/>
<line x1="357.00" y1="298.80" x2="357.00" y2="304.00" stroke="#1a1a1a" stroke-width="0.95"/>
<line x1="355.20" y1="298.80" x2="358.80" y2="298.80" stroke="#1a1a1a" stroke-width="0.95"/>
<line x1="355.20" y1="304.00" x2="358.80" y2="304.00" stroke="#1a1a1a" stroke-width="0.95"/>
<line x1="367.90" y1="298.40" x2="367.90" y2="303.20" stroke="#1a1a1a" stroke-width="0.95"/>
<line x1="366.10" y1="298.40" x2="369.70" y2="298.40" stroke="#1a1a1a" stroke-width="0.95"/>
<line x1="366.10" y1="303.20" x2="369.70" y2="303.20" stroke="#1a1a1a" stroke-width="0.95"/>
<line x1="380.50" y1="304.00" x2="380.50" y2="311.40" stroke="#1a1a1a" stroke-width="0.95"/>
<line x1="378.70" y1="304.00" x2="382.30" y2="304.00" stroke="#1a1a1a" stroke-width="0.95"/>
<line x1="378.70" y1="311.40" x2="382.30" y2="311.40" stroke="#1a1a1a" stroke-width="0.95"/>
<line x1="391.60" y1="302.80" x2="391.60" y2="309.80" stroke="#1a1a1a" stroke-width="0.95"/>
<line x1="389.80" y1="302.80" x2="393.40" y2="302.80" stroke="#1a1a1a" stroke-width="0.95"/>
<line x1="389.80" y1="309.80" x2="393.40" y2="309.80" stroke="#1a1a1a" stroke-width="0.95"/>
<line x1="404.10" y1="286.20" x2="404.10" y2="289.40" stroke="#1a1a1a" stroke-width="0.95"/>
<line x1="402.30" y1="286.20" x2="405.90" y2="286.20" stroke="#1a1a1a" stroke-width="0.95"/>
<line x1="402.30" y1="289.40" x2="405.90" y2="289.40" stroke="#1a1a1a" stroke-width="0.95"/>
<line x1="415.30" y1="286.80" x2="415.30" y2="290.20" stroke="#1a1a1a" stroke-width="0.95"/>
<line x1="413.50" y1="286.80" x2="417.10" y2="286.80" stroke="#1a1a1a" stroke-width="0.95"/>
<line x1="413.50" y1="290.20" x2="417.10" y2="290.20" stroke="#1a1a1a" stroke-width="0.95"/>
<circle cx="353.20" cy="295.60" r="1.65" fill="#2db34a"/>
<circle cx="359.10" cy="295.60" r="1.65" fill="#2db34a"/>
<circle cx="355.30" cy="299.20" r="1.65" fill="#2db34a"/>
<circle cx="357.00" cy="302.80" r="1.65" fill="#2db34a"/>
<circle cx="353.70" cy="304.00" r="1.65" fill="#2db34a"/>
<circle cx="358.60" cy="307.60" r="1.65" fill="#2db34a"/>
<circle cx="364.60" cy="295.60" r="1.65" fill="#55197a"/>
<circle cx="370.80" cy="295.10" r="1.65" fill="#55197a"/>
<circle cx="367.50" cy="300.00" r="1.65" fill="#55197a"/>
<circle cx="365.00" cy="303.70" r="1.65" fill="#55197a"/>
<circle cx="370.00" cy="304.00" r="1.65" fill="#55197a"/>
<circle cx="367.50" cy="308.90" r="1.65" fill="#55197a"/>
<circle cx="380.50" cy="299.20" r="1.65" fill="#2db34a"/>
<circle cx="377.30" cy="301.60" r="1.65" fill="#2db34a"/>
<circle cx="383.00" cy="303.20" r="1.65" fill="#2db34a"/>
<circle cx="381.30" cy="305.30" r="1.65" fill="#2db34a"/>
<circle cx="378.10" cy="313.80" r="1.65" fill="#2db34a"/>
<circle cx="383.00" cy="313.80" r="1.65" fill="#2db34a"/>
<circle cx="392.30" cy="299.20" r="1.65" fill="#55197a"/>
<circle cx="390.60" cy="301.60" r="1.65" fill="#55197a"/>
<circle cx="390.60" cy="305.30" r="1.65" fill="#55197a"/>
<circle cx="388.70" cy="308.90" r="1.65" fill="#55197a"/>
<circle cx="392.70" cy="308.90" r="1.65" fill="#55197a"/>
<circle cx="391.10" cy="313.00" r="1.65" fill="#55197a"/>
<circle cx="404.10" cy="283.20" r="1.65" fill="#2db34a"/>
<circle cx="401.70" cy="285.30" r="1.65" fill="#2db34a"/>
<circle cx="406.60" cy="285.30" r="1.65" fill="#2db34a"/>
<circle cx="400.90" cy="289.40" r="1.65" fill="#2db34a"/>
<circle cx="407.60" cy="289.40" r="1.65" fill="#2db34a"/>
<circle cx="405.00" cy="290.70" r="1.65" fill="#2db34a"/>
<circle cx="415.50" cy="284.20" r="1.65" fill="#55197a"/>
<circle cx="412.80" cy="287.00" r="1.65" fill="#55197a"/>
<circle cx="418.40" cy="287.00" r="1.65" fill="#55197a"/>
<circle cx="413.10" cy="289.40" r="1.65" fill="#55197a"/>
<circle cx="418.10" cy="289.40" r="1.65" fill="#55197a"/>
<circle cx="415.50" cy="293.50" r="1.65" fill="#55197a"/>
<line x1="356.50" y1="290.20" x2="367.90" y2="290.20" stroke="#1a1a1a" stroke-width="1.0"/>
<text x="362.20" y="287.41" font-size="7.8" text-anchor="middle" fill="#1a1a1a">ns</text>
<line x1="380.20" y1="295.40" x2="391.60" y2="295.40" stroke="#1a1a1a" stroke-width="1.0"/>
<text x="385.90" y="292.61" font-size="7.8" text-anchor="middle" fill="#1a1a1a">ns</text>
<line x1="405.20" y1="279.60" x2="415.50" y2="279.60" stroke="#1a1a1a" stroke-width="1.0"/>
<text x="410.35" y="276.91" font-size="7.8" text-anchor="middle" fill="#1a1a1a">ns</text>
<text x="352.80" y="327.80" font-size="8.3" text-anchor="start" textLength="17.40" lengthAdjust="spacingAndGlyphs" fill="#1a1a1a">IFNγ</text>
<text x="379.50" y="327.80" font-size="8.3" text-anchor="start" textLength="12.40" lengthAdjust="spacingAndGlyphs" fill="#1a1a1a">IL-2</text>
<text x="399.60" y="327.80" font-size="8.3" text-anchor="start" textLength="20.70" lengthAdjust="spacingAndGlyphs" fill="#1a1a1a">TNFα</text>
<line x1="441.90" y1="262.10" x2="441.90" y2="317.65" stroke="#1a1a1a" stroke-width="1.1"/>
<line x1="441.35" y1="317.10" x2="513.80" y2="317.10" stroke="#1a1a1a" stroke-width="1.1"/>
<line x1="439.00" y1="265.40" x2="441.90" y2="265.40" stroke="#1a1a1a" stroke-width="0.9900000000000001"/>
<text x="435.75" y="268.23" font-size="8.1" text-anchor="end" fill="#1a1a1a">50</text>
<line x1="439.00" y1="275.70" x2="441.90" y2="275.70" stroke="#1a1a1a" stroke-width="0.9900000000000001"/>
<text x="435.75" y="278.53" font-size="8.1" text-anchor="end" fill="#1a1a1a">40</text>
<line x1="439.00" y1="286.10" x2="441.90" y2="286.10" stroke="#1a1a1a" stroke-width="0.9900000000000001"/>
<text x="435.75" y="288.94" font-size="8.1" text-anchor="end" fill="#1a1a1a">30</text>
<line x1="439.00" y1="296.40" x2="441.90" y2="296.40" stroke="#1a1a1a" stroke-width="0.9900000000000001"/>
<text x="435.75" y="299.23" font-size="8.1" text-anchor="end" fill="#1a1a1a">20</text>
<line x1="439.00" y1="306.80" x2="441.90" y2="306.80" stroke="#1a1a1a" stroke-width="0.9900000000000001"/>
<text x="435.75" y="309.63" font-size="8.1" text-anchor="end" fill="#1a1a1a">10</text>
<line x1="439.00" y1="317.10" x2="441.90" y2="317.10" stroke="#1a1a1a" stroke-width="0.9900000000000001"/>
<text x="435.75" y="319.94" font-size="8.1" text-anchor="end" fill="#1a1a1a">0</text>
<line x1="447.90" y1="317.10" x2="447.90" y2="320.10" stroke="#1a1a1a" stroke-width="0.9900000000000001"/>
<line x1="459.10" y1="317.10" x2="459.10" y2="320.10" stroke="#1a1a1a" stroke-width="0.9900000000000001"/>
<line x1="471.30" y1="317.10" x2="471.30" y2="320.10" stroke="#1a1a1a" stroke-width="0.9900000000000001"/>
<line x1="482.70" y1="317.10" x2="482.70" y2="320.10" stroke="#1a1a1a" stroke-width="0.9900000000000001"/>
<line x1="495.20" y1="317.10" x2="495.20" y2="320.10" stroke="#1a1a1a" stroke-width="0.9900000000000001"/>
<line x1="506.60" y1="317.10" x2="506.60" y2="320.10" stroke="#1a1a1a" stroke-width="0.9900000000000001"/>
<rect x="444.70" y="294.30" width="6.70" height="22.80" fill="#a8dba6" stroke="#93d093" stroke-width="0.6"/>
<rect x="455.40" y="293.60" width="7.00" height="23.50" fill="#b39bc6" stroke="#9f84b6" stroke-width="0.6"/>
<rect x="467.70" y="315.50" width="7.20" height="1.60" fill="#a8dba6" stroke="#93d093" stroke-width="0.6"/>
<rect x="479.40" y="315.50" width="6.60" height="1.60" fill="#b39bc6" stroke="#9f84b6" stroke-width="0.6"/>
<rect x="491.80" y="293.20" width="7.10" height="23.90" fill="#a8dba6" stroke="#93d093" stroke-width="0.6"/>
<rect x="503.40" y="294.90" width="6.60" height="22.20" fill="#b39bc6" stroke="#9f84b6" stroke-width="0.6"/>
<line x1="447.90" y1="291.30" x2="447.90" y2="296.60" stroke="#1a1a1a" stroke-width="0.95"/>
<line x1="446.10" y1="291.30" x2="449.70" y2="291.30" stroke="#1a1a1a" stroke-width="0.95"/>
<line x1="446.10" y1="296.60" x2="449.70" y2="296.60" stroke="#1a1a1a" stroke-width="0.95"/>
<line x1="459.10" y1="285.30" x2="459.10" y2="297.60" stroke="#1a1a1a" stroke-width="0.95"/>
<line x1="457.30" y1="285.30" x2="460.90" y2="285.30" stroke="#1a1a1a" stroke-width="0.95"/>
<line x1="457.30" y1="297.60" x2="460.90" y2="297.60" stroke="#1a1a1a" stroke-width="0.95"/>
<line x1="495.20" y1="287.70" x2="495.20" y2="297.20" stroke="#1a1a1a" stroke-width="0.95"/>
<line x1="493.40" y1="287.70" x2="497.00" y2="287.70" stroke="#1a1a1a" stroke-width="0.95"/>
<line x1="493.40" y1="297.20" x2="497.00" y2="297.20" stroke="#1a1a1a" stroke-width="0.95"/>
<line x1="506.60" y1="289.40" x2="506.60" y2="299.70" stroke="#1a1a1a" stroke-width="0.95"/>
<line x1="504.80" y1="289.40" x2="508.40" y2="289.40" stroke="#1a1a1a" stroke-width="0.95"/>
<line x1="504.80" y1="299.70" x2="508.40" y2="299.70" stroke="#1a1a1a" stroke-width="0.95"/>
<circle cx="445.60" cy="285.30" r="1.65" fill="#2db34a"/>
<circle cx="450.60" cy="285.00" r="1.65" fill="#2db34a"/>
<circle cx="447.90" cy="289.70" r="1.65" fill="#2db34a"/>
<circle cx="447.90" cy="297.60" r="1.65" fill="#2db34a"/>
<circle cx="445.60" cy="301.40" r="1.65" fill="#2db34a"/>
<circle cx="450.40" cy="301.40" r="1.65" fill="#2db34a"/>
<circle cx="458.80" cy="283.00" r="1.65" fill="#55197a"/>
<circle cx="456.40" cy="288.30" r="1.65" fill="#55197a"/>
<circle cx="461.30" cy="288.30" r="1.65" fill="#55197a"/>
<circle cx="458.80" cy="288.00" r="1.65" fill="#55197a"/>
<circle cx="459.10" cy="301.60" r="1.65" fill="#55197a"/>
<circle cx="459.10" cy="309.40" r="1.65" fill="#55197a"/>
<circle cx="469.20" cy="316.00" r="1.65" fill="#2db34a"/>
<circle cx="471.30" cy="316.30" r="1.65" fill="#2db34a"/>
<circle cx="473.40" cy="316.00" r="1.65" fill="#2db34a"/>
<circle cx="471.00" cy="315.30" r="1.65" fill="#2db34a"/>
<circle cx="480.80" cy="315.60" r="1.65" fill="#55197a"/>
<circle cx="482.70" cy="314.80" r="1.65" fill="#55197a"/>
<circle cx="484.80" cy="315.80" r="1.65" fill="#55197a"/>
<circle cx="482.40" cy="316.40" r="1.65" fill="#55197a"/>
<circle cx="494.90" cy="279.50" r="1.65" fill="#2db34a"/>
<circle cx="498.40" cy="278.80" r="1.65" fill="#2db34a"/>
<circle cx="495.20" cy="287.70" r="1.65" fill="#2db34a"/>
<circle cx="494.80" cy="296.00" r="1.65" fill="#2db34a"/>
<circle cx="492.90" cy="302.80" r="1.65" fill="#2db34a"/>
<circle cx="497.40" cy="302.80" r="1.65" fill="#2db34a"/>
<circle cx="506.60" cy="278.80" r="1.65" fill="#55197a"/>
<circle cx="506.60" cy="282.60" r="1.65" fill="#55197a"/>
<circle cx="506.20" cy="295.50" r="1.65" fill="#55197a"/>
<circle cx="503.90" cy="302.80" r="1.65" fill="#55197a"/>
<circle cx="509.30" cy="302.80" r="1.65" fill="#55197a"/>
<circle cx="507.00" cy="304.90" r="1.65" fill="#55197a"/>
<line x1="447.70" y1="279.20" x2="458.50" y2="279.20" stroke="#1a1a1a" stroke-width="1.0"/>
<text x="453.10" y="276.11" font-size="7.8" text-anchor="middle" fill="#1a1a1a">ns</text>
<line x1="471.40" y1="309.20" x2="482.00" y2="309.20" stroke="#1a1a1a" stroke-width="1.0"/>
<text x="476.70" y="306.11" font-size="7.8" text-anchor="middle" fill="#1a1a1a">ns</text>
<line x1="495.20" y1="275.40" x2="506.00" y2="275.40" stroke="#1a1a1a" stroke-width="1.0"/>
<text x="500.60" y="272.31" font-size="7.8" text-anchor="middle" fill="#1a1a1a">ns</text>
<text x="445.20" y="327.80" font-size="8.3" text-anchor="start" textLength="16.50" lengthAdjust="spacingAndGlyphs" fill="#1a1a1a">IFNγ</text>
<text x="470.00" y="327.80" font-size="8.3" text-anchor="start" textLength="12.90" lengthAdjust="spacingAndGlyphs" fill="#1a1a1a">IL-2</text>
<text x="491.10" y="327.80" font-size="8.3" text-anchor="start" textLength="19.30" lengthAdjust="spacingAndGlyphs" fill="#1a1a1a">TNFα</text>
</svg>
</body></html>
